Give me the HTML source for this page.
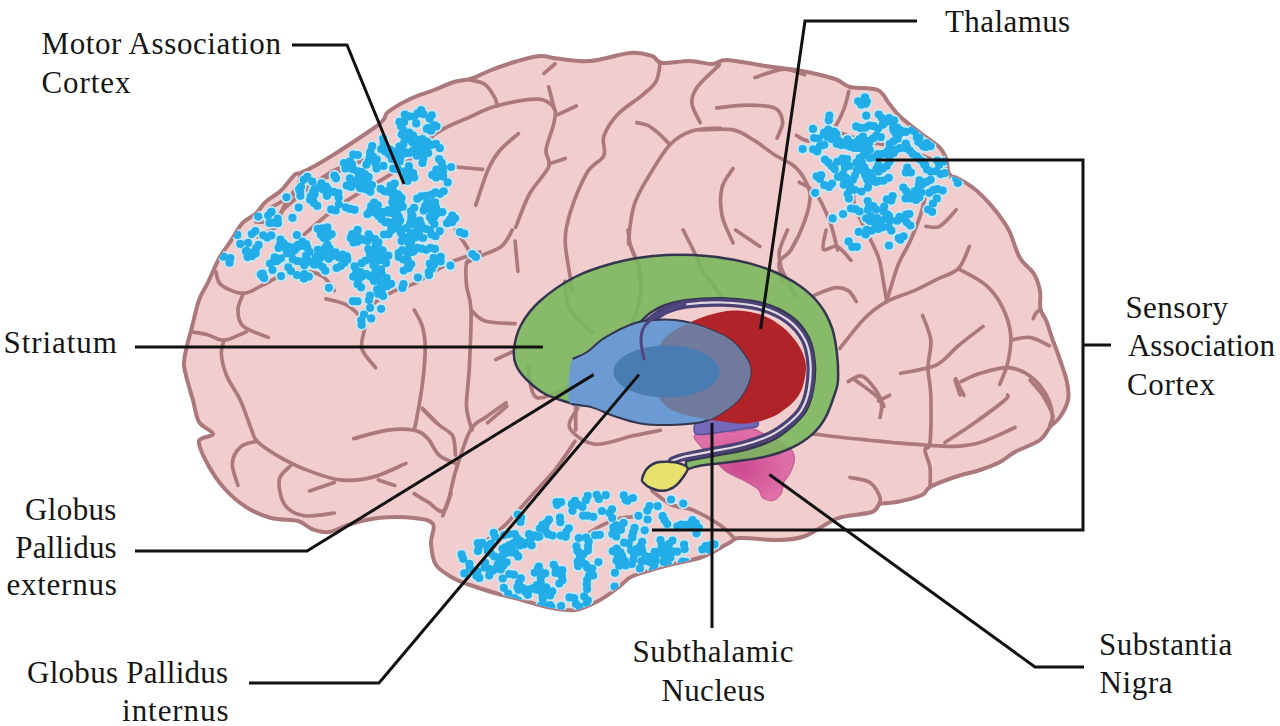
<!DOCTYPE html>
<html><head><meta charset="utf-8"><style>
html,body{margin:0;padding:0;background:#fff;}
svg{display:block;}
text{font-family:"Liberation Serif",serif;font-size:31px;fill:#161616;}
</style></head><body>
<svg width="1280" height="726" viewBox="0 0 1280 726">
<rect width="1280" height="726" fill="#fff"/>
<path d="M187.0,346.0 C188.3,339.7 190.0,334.7 192.0,327.0 C194.0,319.3 196.4,307.3 199.0,300.0 C201.6,292.7 204.3,290.0 207.7,283.0 C211.1,276.0 215.4,265.1 219.3,258.0 C223.2,250.9 227.2,246.4 231.0,240.6 C234.8,234.8 238.2,227.7 242.4,223.2 C246.6,218.7 252.1,217.1 255.9,213.6 C259.8,210.1 261.3,205.8 265.5,202.0 C269.7,198.2 276.2,195.0 281.0,190.5 C285.8,186.0 291.2,177.9 294.4,175.0 C297.6,172.1 296.7,174.7 300.2,173.1 C303.7,171.5 309.8,168.6 315.6,165.4 C321.4,162.2 325.2,160.1 334.9,153.9 C344.6,147.7 365.8,133.8 374.0,128.0 C382.2,122.2 381.7,121.7 384.0,119.0 C386.3,116.3 383.7,115.3 388.0,112.0 C392.3,108.7 402.3,102.7 410.0,99.0 C417.7,95.3 426.7,92.8 434.0,90.0 C441.3,87.2 447.7,83.9 454.0,82.0 C460.3,80.1 466.0,80.4 472.0,78.5 C478.0,76.6 482.7,73.3 490.0,70.5 C497.3,67.7 507.7,63.9 516.0,61.5 C524.3,59.1 533.2,56.5 540.0,56.0 C546.8,55.5 548.7,57.7 557.0,58.5 C565.3,59.3 577.8,61.9 590.0,61.0 C602.2,60.1 619.7,53.8 630.0,53.0 C640.3,52.2 646.7,54.3 652.0,56.0 C657.3,57.7 655.7,62.2 662.0,63.0 C668.3,63.8 681.7,60.8 690.0,61.0 C698.3,61.2 705.8,64.2 712.0,64.0 C718.2,63.8 718.2,59.7 727.0,60.0 C735.8,60.3 752.5,64.2 765.0,66.0 C777.5,67.8 790.3,68.8 802.0,71.0 C813.7,73.2 827.0,76.3 835.0,79.0 C843.0,81.7 842.9,85.2 850.0,87.0 C857.1,88.8 871.1,87.3 877.6,90.0 C884.1,92.7 885.0,98.6 888.7,103.0 C892.4,107.4 894.2,111.1 899.7,116.3 C905.2,121.5 915.1,128.9 921.7,134.0 C928.3,139.1 935.2,143.1 939.3,147.1 C943.3,151.1 944.5,154.0 946.0,158.2 C947.5,162.3 947.5,168.9 948.2,172.0 C948.9,175.1 948.5,175.5 950.0,176.5 C951.5,177.5 952.9,175.9 957.0,178.0 C961.1,180.1 968.7,184.2 974.6,189.0 C980.5,193.8 987.1,200.7 992.2,206.6 C997.4,212.5 1002.4,219.6 1005.5,224.3 C1008.6,229.0 1008.6,229.4 1011.0,235.0 C1013.4,240.6 1016.2,251.5 1020.0,258.0 C1023.8,264.5 1030.7,268.5 1034.0,274.0 C1037.3,279.5 1038.9,285.2 1040.0,291.0 C1041.1,296.8 1039.3,304.0 1040.4,309.0 C1041.5,314.0 1044.5,316.2 1046.4,321.0 C1048.3,325.8 1049.9,332.0 1052.0,338.0 C1054.1,344.0 1056.5,349.7 1059.0,357.0 C1061.5,364.3 1065.5,374.8 1067.0,382.0 C1068.5,389.2 1069.2,394.2 1068.0,400.0 C1066.8,405.8 1063.0,412.5 1060.0,417.0 C1057.0,421.5 1053.3,423.2 1050.0,427.0 C1046.7,430.8 1045.8,435.8 1040.0,440.0 C1034.2,444.2 1021.7,448.3 1015.0,452.0 C1008.3,455.7 1005.8,459.0 1000.0,462.0 C994.2,465.0 987.5,467.5 980.0,470.0 C972.5,472.5 963.3,474.2 955.0,477.0 C946.7,479.8 935.5,484.0 930.0,487.0 C924.5,490.0 927.5,492.5 922.0,495.0 C916.5,497.5 904.0,500.5 897.0,502.0 C890.0,503.5 884.2,502.3 880.0,504.0 C875.8,505.7 878.3,509.8 872.0,512.0 C865.7,514.2 849.0,515.3 842.0,517.0 C835.0,518.7 836.2,518.8 830.0,522.0 C823.8,525.2 813.3,533.0 805.0,536.0 C796.7,539.0 790.8,539.7 780.0,540.0 C769.2,540.3 748.5,537.5 740.0,538.0 C731.5,538.5 735.3,539.8 729.0,543.0 C722.7,546.2 712.0,553.3 702.0,557.0 C692.0,560.7 680.5,561.8 669.0,565.0 C657.5,568.2 641.2,572.5 633.0,576.0 C624.8,579.5 625.5,582.0 620.0,586.0 C614.5,590.0 607.5,596.0 600.0,600.0 C592.5,604.0 583.8,608.8 575.0,610.0 C566.2,611.2 555.8,608.7 547.0,607.0 C538.2,605.3 530.7,602.3 522.0,600.0 C513.3,597.7 503.7,595.5 495.0,593.0 C486.3,590.5 476.7,587.3 470.0,585.0 C463.3,582.7 460.7,582.3 455.0,579.0 C449.3,575.7 440.0,571.0 436.0,565.0 C432.0,559.0 431.5,549.8 431.0,543.0 C430.5,536.2 435.8,528.2 433.0,524.0 C430.2,519.8 423.2,519.0 414.0,518.0 C404.8,517.0 388.5,517.0 378.0,518.0 C367.5,519.0 359.2,521.7 351.0,524.0 C342.8,526.3 335.5,531.2 329.0,532.0 C322.5,532.8 317.2,530.8 312.0,529.0 C306.8,527.2 304.8,522.8 298.0,521.0 C291.2,519.2 279.7,520.3 271.0,518.0 C262.3,515.7 253.8,512.0 246.0,507.0 C238.2,502.0 230.5,495.3 224.0,488.0 C217.5,480.7 211.2,470.8 207.0,463.0 C202.8,455.2 198.0,445.8 199.0,441.0 C200.0,436.2 213.0,437.2 213.0,434.0 C213.0,430.8 202.3,427.7 199.0,422.0 C195.7,416.3 194.5,405.3 193.0,400.0 C191.5,394.7 191.5,395.8 190.0,390.0 C188.5,384.2 184.5,372.3 184.0,365.0 C183.5,357.7 185.7,352.3 187.0,346.0Z" fill="#f2cdcd" stroke="#ab797c" stroke-width="4" stroke-linejoin="round"/>
<g fill="none" stroke="#ab797c" stroke-width="3.7" stroke-linecap="round" stroke-linejoin="round"><path d="M469.4,79.7 C472.0,80.5 480.8,81.5 485.0,84.4 C489.2,87.3 492.3,93.3 494.4,96.9 C496.5,100.5 497.0,104.5 497.5,106.0"/><path d="M544.0,73.4 C545.8,71.8 553.2,65.6 555.0,64.0"/><path d="M300.0,238.0 C306.7,232.5 323.3,216.7 340.0,205.0 C356.7,193.3 384.0,179.9 400.0,168.0 C416.0,156.1 424.1,142.1 435.8,133.6 C447.5,125.1 459.9,121.6 470.0,117.0 C480.1,112.4 485.1,109.0 496.4,106.0 C507.7,103.0 528.1,98.9 537.7,99.2 C547.3,99.5 551.3,104.1 554.0,108.0 C556.7,111.9 555.3,115.6 554.0,122.6 C552.7,129.6 546.9,142.7 546.0,150.0 C545.1,157.3 551.5,159.4 548.7,166.7 C545.9,174.0 534.9,183.9 529.4,194.0 C523.9,204.1 518.0,221.8 515.7,227.3"/><path d="M548.7,86.8 C549.6,90.5 553.3,105.1 554.2,108.8"/><path d="M558.4,114.4 C561.4,113.0 573.3,107.4 576.3,106.0"/><path d="M518.4,133.6 C515.3,136.4 505.1,144.2 500.0,150.2 C494.9,156.2 492.2,160.2 488.1,169.4 C484.1,178.6 477.8,199.2 475.7,205.2"/><path d="M452.3,166.7 C457.4,167.1 477.6,168.9 482.6,169.4"/><path d="M660.3,62.0 C659.6,65.2 659.1,75.8 656.1,81.3 C653.1,86.8 648.8,89.6 642.4,95.1 C636.0,100.6 624.0,107.5 617.6,114.4 C611.2,121.3 606.1,129.5 603.8,136.4 C601.5,143.3 606.5,149.7 603.8,155.7 C601.0,161.7 592.8,163.0 587.3,172.2 C581.8,181.4 574.5,199.4 570.8,210.7 C567.1,222.0 565.3,229.0 565.2,240.0 C565.1,251.0 568.9,268.4 570.2,276.8 C571.5,285.2 572.5,288.3 573.0,290.6"/><path d="M548.7,164.0 C551.5,163.1 562.5,159.3 565.2,158.4"/><path d="M636.8,122.6 C638.6,123.1 644.2,123.6 647.9,125.4 C651.6,127.2 655.2,130.4 658.9,133.6 C662.6,136.8 668.1,142.8 669.9,144.7"/><path d="M720.0,128.1 C715.3,128.6 700.2,128.1 691.9,130.9 C683.5,133.7 677.2,136.9 669.9,144.7 C662.6,152.5 653.9,167.6 647.9,177.7 C641.9,187.8 637.3,194.8 634.1,205.2 C630.9,215.6 629.2,233.1 628.6,240.0 C628.0,246.9 629.1,242.2 630.8,246.5 C632.5,250.8 637.6,262.6 639.0,265.8"/><path d="M719.5,64.8 C715.8,68.5 702.0,80.4 697.4,86.8 C692.8,93.2 691.4,97.3 691.9,103.3 C692.4,109.3 698.8,119.4 700.2,122.6"/><path d="M270.0,208.0 C282.1,201.6 319.4,180.5 342.5,169.5 C365.6,158.5 392.4,149.4 408.6,142.0 C424.9,134.6 434.8,127.8 440.0,125.0"/><path d="M256.0,222.0 C258.8,221.8 268.2,223.3 273.0,221.0 C277.8,218.7 280.5,212.3 285.0,208.0 C289.5,203.7 295.0,199.2 300.0,195.0 C305.0,190.8 309.2,187.2 315.0,183.0 C320.8,178.8 327.5,173.7 335.0,170.0 C342.5,166.3 355.8,162.5 360.0,161.0"/><path d="M300.2,176.0 C299.8,177.5 300.9,179.7 298.0,185.0 C295.1,190.3 286.5,201.2 283.0,208.0 C279.5,214.8 281.2,221.2 277.0,226.0 C272.8,230.8 261.2,235.2 258.0,237.0"/><path d="M755.0,77.5 C759.6,76.1 774.3,69.8 782.6,69.3 C790.9,68.8 801.0,73.9 804.7,74.8"/><path d="M716.5,107.9 C721.5,107.4 737.1,105.1 746.8,105.1 C756.4,105.1 768.4,105.2 774.4,107.9 C780.4,110.7 782.1,116.5 782.6,121.6 C783.1,126.6 778.0,135.4 777.1,138.2"/><path d="M700.0,129.9 C705.5,129.9 723.8,128.1 733.0,129.9 C742.2,131.7 748.1,136.8 755.0,140.9 C761.9,145.0 767.9,150.6 774.4,154.7 C780.9,158.8 788.7,161.6 793.7,165.7 C798.8,169.8 802.0,174.4 804.7,179.5 C807.5,184.6 810.2,189.1 810.2,196.0 C810.2,202.9 807.9,211.8 804.7,220.8 C801.5,229.8 795.1,243.1 790.9,250.0 C786.7,256.9 780.8,257.0 779.3,262.0 C777.8,267.0 781.5,277.0 782.0,280.0"/><path d="M733.0,168.5 C731.2,171.7 723.8,179.9 722.0,187.7 C720.2,195.5 720.2,206.1 722.0,215.3 C723.8,224.5 731.2,238.2 733.0,242.8"/><path d="M848.8,91.3 C847.9,94.5 846.1,104.2 843.3,110.6 C840.5,117.0 837.7,124.9 832.2,129.9 C826.7,135.0 816.2,140.0 810.2,140.9 C804.2,141.8 798.7,136.3 796.4,135.4"/><path d="M832.2,129.9 C837.7,131.7 855.2,138.2 865.3,140.9 C875.4,143.7 883.6,144.1 892.8,146.4 C902.0,148.7 912.1,151.5 920.4,154.7 C928.7,157.9 936.9,161.6 942.4,165.7 C947.9,169.8 951.6,177.2 953.4,179.5"/><path d="M854.3,179.5 C854.3,183.6 852.5,196.0 854.3,204.3 C856.1,212.6 861.3,220.2 865.3,229.1 C869.3,238.0 875.4,248.2 878.5,257.5 C881.6,266.8 882.6,277.8 884.0,285.1 C885.4,292.5 886.2,298.9 886.7,301.6"/><path d="M925.9,193.3 C925.0,197.0 923.1,207.1 920.4,215.3 C917.6,223.6 913.2,234.4 909.4,242.8 C905.6,251.2 901.5,256.0 897.7,265.8 C893.9,275.6 888.5,295.6 886.7,301.6"/><path d="M799.2,182.2 C802.0,184.0 810.7,186.9 815.7,193.3 C820.8,199.7 825.8,211.4 829.5,220.8 C833.2,230.2 836.3,245.1 837.7,250.0"/><path d="M956.2,209.8 C953.5,212.6 944.8,223.6 939.7,226.3 C934.7,229.1 928.2,226.3 925.9,226.3"/><path d="M826.1,230.0 C825.6,233.2 821.6,246.6 823.4,249.3 C825.2,252.1 832.5,244.7 837.1,246.5 C841.7,248.3 848.6,258.0 850.9,260.3"/><path d="M812.3,296.1 C816.0,294.7 828.4,288.8 834.4,287.9 C840.4,287.0 844.5,288.3 848.2,290.6 C851.9,292.9 855.0,299.8 856.4,301.6"/><path d="M839.9,348.5 C844.0,343.4 856.9,326.0 864.7,318.2 C872.5,310.4 878.4,306.2 886.7,301.6 C895.0,297.0 906.0,294.3 914.3,290.6 C922.6,286.9 929.0,283.3 936.3,279.6 C943.6,275.9 952.8,274.1 958.3,268.6 C963.8,263.1 967.5,250.2 969.4,246.5"/><path d="M958.3,268.6 C962.9,271.4 978.5,278.7 985.9,285.1 C993.2,291.5 998.3,298.8 1002.4,307.1 C1006.5,315.4 1009.8,325.5 1010.7,334.7 C1011.6,343.9 1009.7,353.9 1007.9,362.2 C1006.1,370.5 1001.1,380.6 999.7,384.3"/><path d="M1010.7,340.2 C1013.9,339.7 1023.6,336.5 1030.0,337.4 C1036.4,338.3 1046.1,344.3 1049.3,345.7"/><path d="M922.5,315.4 C923.9,319.5 929.9,331.5 930.8,340.2 C931.7,348.9 928.0,358.5 928.0,367.7 C928.0,376.9 930.5,382.8 930.8,395.3 C931.1,407.8 931.0,433.4 930.0,442.5 C929.0,451.6 925.0,445.8 925.0,450.0 C925.0,454.2 929.2,461.2 930.0,467.5 C930.8,473.8 930.0,484.2 930.0,487.5"/><path d="M900.5,373.3 C906.5,371.9 926.7,369.6 936.3,365.0 C945.9,360.4 950.5,352.1 958.3,345.7 C966.1,339.3 979.0,329.6 983.1,326.4"/><path d="M955.6,378.8 C957.0,381.6 962.5,392.6 963.9,395.3"/><path d="M961.1,381.5 C964.3,380.1 972.6,375.6 980.4,373.3 C988.2,371.0 999.6,367.2 1007.9,367.7 C1016.2,368.1 1023.6,371.4 1030.0,376.0 C1036.4,380.6 1042.8,388.8 1046.5,395.3 C1050.2,401.8 1051.9,410.1 1052.5,415.0 C1053.1,419.9 1050.4,423.3 1050.0,425.0"/><path d="M848.2,381.5 C850.5,380.6 857.3,374.6 861.9,376.0 C866.5,377.4 872.0,384.8 875.7,389.8 C879.4,394.9 882.6,403.6 884.0,406.3"/><path d="M878.5,400.8 C880.3,399.9 887.7,396.2 889.5,395.3"/><path d="M787.5,230.0 C786.1,233.7 780.2,245.1 779.3,252.0 C778.4,258.9 781.5,268.1 782.0,271.3"/><path d="M1040.4,309.4 C1039.7,310.0 1037.2,311.4 1036.0,313.0 C1034.8,314.6 1033.7,317.8 1033.2,318.7"/><path d="M215.8,271.3 C216.7,273.6 216.7,281.4 221.3,285.1 C225.9,288.8 236.5,293.4 243.4,293.4 C250.3,293.4 255.7,288.3 262.6,285.1 C269.5,281.9 277.4,276.4 284.7,274.1 C292.0,271.8 300.3,270.9 306.7,271.3 C313.1,271.8 318.7,273.6 323.3,276.8 C327.9,280.0 332.5,288.3 334.3,290.6"/><path d="M243.4,293.4 C242.5,296.1 237.9,304.4 237.9,309.9 C237.9,315.4 238.4,321.8 243.4,326.4 C248.4,331.0 264.1,335.6 268.2,337.4"/><path d="M191.0,331.9 C193.8,332.4 202.0,333.3 207.5,334.7 C213.0,336.1 217.7,340.7 224.1,340.2 C230.5,339.7 242.4,333.3 246.1,331.9"/><path d="M224.1,340.2 C223.6,342.5 220.9,348.0 221.3,354.0 C221.8,360.0 223.6,368.2 226.8,376.0 C230.0,383.8 236.5,391.8 240.6,400.8 C244.7,409.8 248.8,423.2 251.6,430.0 C254.3,436.8 253.0,437.1 257.1,441.3 C261.2,445.5 268.6,450.5 276.4,455.1 C284.2,459.7 293.4,464.8 304.0,468.9 C314.6,473.0 328.3,478.5 339.8,479.9 C351.3,481.3 361.8,479.9 372.8,477.1 C383.8,474.4 400.4,465.7 405.9,463.4"/><path d="M326.0,298.9 C329.2,299.8 339.8,301.6 345.3,304.4 C350.8,307.1 355.9,311.7 359.1,315.4 C362.3,319.1 364.2,320.9 364.6,326.4 C365.1,331.9 360.0,341.6 361.8,348.5 C363.6,355.4 373.3,364.5 375.6,367.7"/><path d="M361.8,323.7 C363.6,320.5 367.3,309.9 372.8,304.4 C378.3,298.9 387.5,294.3 394.9,290.6 C402.2,286.9 409.5,286.0 416.9,282.3 C424.2,278.6 432.6,272.3 439.0,268.6 C445.4,264.9 448.7,263.1 455.5,260.3 C462.3,257.5 475.9,253.4 480.0,252.0"/><path d="M414.2,309.9 C415.6,312.6 420.6,320.0 422.4,326.4 C424.2,332.8 425.2,338.9 425.2,348.5 C425.2,358.1 423.8,372.8 422.4,384.3 C421.0,395.8 418.3,409.7 416.9,417.3 C415.5,424.9 414.6,427.9 414.2,430.0"/><path d="M455.5,230.0 C457.3,232.8 463.8,241.9 466.5,246.5 C469.2,251.1 472.0,254.8 472.0,257.5 C472.0,260.2 467.4,258.4 466.5,263.0 C465.6,267.6 465.8,277.3 466.5,285.1 C467.2,292.9 470.5,296.1 471.0,309.9 C471.5,323.7 470.1,351.6 469.3,367.7 C468.6,383.8 466.1,395.9 466.5,406.3 C466.9,416.7 471.1,426.1 472.0,430.0"/><path d="M422.4,409.0 C424.7,411.3 433.9,420.5 436.2,422.8"/><path d="M512.3,230.0 C510.5,232.8 507.3,241.9 501.3,246.5 C495.3,251.1 482.3,254.8 476.5,257.5 C470.7,260.2 468.2,262.1 466.5,263.0"/><path d="M515.1,241.0 C515.6,246.1 517.4,266.2 517.9,271.3"/><path d="M471.0,309.9 C473.3,311.7 477.4,318.6 484.8,320.9 C492.2,323.2 510.1,323.2 515.1,323.7"/><path d="M495.8,359.5 C498.8,358.1 510.7,352.6 513.7,351.2"/><path d="M506.8,406.3 C503.6,409.1 490.7,420.1 487.5,422.8"/><path d="M575.7,400.8 C575.7,405.7 575.7,425.1 575.7,430.0"/><path d="M683.1,230.0 C685.0,233.7 691.0,245.1 694.2,252.0 C697.4,258.9 701.0,268.1 702.4,271.3"/><path d="M735.5,230.0 C739.6,232.8 755.9,243.8 760.0,246.5"/><path d="M628.0,230.0 C628.5,232.8 629.0,240.5 630.8,246.5 C632.6,252.5 637.6,262.6 639.0,265.8"/><path d="M257.1,441.3 C254.4,442.2 244.7,443.1 240.6,446.8 C236.5,450.5 232.8,457.0 232.3,463.4 C231.9,469.8 237.0,481.7 237.9,485.4"/><path d="M290.2,466.1 C288.4,468.4 280.1,473.5 279.2,479.9 C278.3,486.3 280.6,498.7 284.7,504.7 C288.8,510.7 295.7,514.3 304.0,515.7 C312.3,517.1 329.2,513.5 334.3,513.0"/><path d="M309.5,490.9 C313.6,489.5 330.2,484.0 334.3,482.6"/><path d="M378.3,479.9 C381.1,480.8 392.1,484.5 394.9,485.4"/><path d="M353.6,438.6 C359.1,437.2 376.5,431.7 386.6,430.3 C396.7,428.9 407.3,428.9 414.2,430.3 C421.1,431.7 423.8,434.5 427.9,438.6 C432.0,442.7 434.4,451.0 439.0,455.1 C443.6,459.2 452.8,462.0 455.5,463.4"/><path d="M422.4,408.3 C425.2,411.1 433.9,420.2 439.0,424.8 C444.1,429.4 449.9,430.8 452.7,435.8 C455.4,440.9 455.0,451.9 455.5,455.1"/><path d="M414.2,493.7 C416.5,495.1 422.8,499.1 427.9,501.9 C432.9,504.6 439.9,515.2 444.5,510.2 C449.1,505.1 451.2,484.9 455.5,471.6 C459.8,458.3 465.1,439.5 470.3,430.3 C475.5,421.1 480.8,421.1 486.8,416.5 C492.8,411.9 502.9,405.1 506.1,402.8"/><path d="M444.5,510.2 C445.6,507.4 451.3,492.8 451.0,493.7 C450.7,494.6 444.2,512.0 442.8,515.7"/><path d="M577.7,408.3 C576.3,411.5 566.7,421.5 569.5,427.5 C572.3,433.5 583.8,442.7 594.3,444.1 C604.8,445.5 621.8,438.1 632.8,435.8 C643.8,433.5 655.8,431.2 660.4,430.3"/><path d="M575.0,441.3 C571.8,445.9 563.1,459.7 555.7,468.9 C548.4,478.1 539.6,486.8 530.9,496.4 C522.2,506.0 512.6,518.0 503.4,526.7 C494.2,535.4 480.4,545.1 475.8,548.8"/><path d="M652.1,490.9 C655.3,493.2 664.5,501.5 671.4,504.7 C678.3,507.9 685.3,506.8 693.4,510.2 C701.5,513.6 713.1,520.2 720.0,525.0 C726.9,529.8 732.5,536.5 735.0,538.8"/><path d="M577.7,543.3 C580.5,541.0 587.4,533.6 594.3,529.5 C601.2,525.4 609.9,520.8 619.1,518.5 C628.3,516.2 644.4,516.2 649.4,515.7"/><path d="M627.3,400.0 C627.8,402.8 629.6,413.8 630.1,416.5"/><path d="M573.0,290.6 C571.6,289.2 565.2,278.8 564.7,282.0 C564.2,285.2 565.6,301.5 570.3,310.0 C575.0,318.5 589.0,329.2 592.8,333.0"/><path d="M639.0,265.8 C639.3,270.8 641.8,286.3 640.6,296.0 C639.4,305.7 633.4,319.3 632.0,324.0"/><path d="M702.4,271.3 C703.8,273.1 707.2,276.9 711.0,282.0 C714.8,287.1 722.7,298.7 725.0,302.0"/><path d="M528.0,366.6 C529.4,371.8 529.6,394.3 536.6,397.5 C543.6,400.7 564.7,387.9 570.3,386.0"/><path d="M781.0,268.0 C783.3,272.7 792.7,291.3 795.0,296.0"/><path d="M812.5,433.8 C817.5,434.4 833.3,436.5 842.5,437.5 C851.7,438.5 859.2,439.2 867.5,440.0 C875.8,440.8 882.9,441.7 892.5,442.5 C902.1,443.3 914.6,444.4 925.0,445.0 C935.4,445.6 945.8,446.7 955.0,446.3 C964.2,445.9 970.0,445.6 980.0,442.5 C990.0,439.4 1009.2,430.0 1015.0,427.5"/><path d="M850.0,477.5 C853.3,478.3 865.0,479.2 870.0,482.5 C875.0,485.8 878.8,493.3 880.0,497.5 C881.2,501.7 877.9,505.8 877.5,507.5"/><path d="M945.0,442.5 C950.0,439.2 965.0,429.6 975.0,422.5 C985.0,415.4 999.6,404.6 1005.0,400.0 C1010.4,395.4 1007.1,395.8 1007.5,395.0"/><path d="M1030.0,380.0 C1032.1,382.5 1038.8,389.2 1042.5,395.0 C1046.2,400.8 1051.2,410.0 1052.5,415.0 C1053.8,420.0 1050.4,423.3 1050.0,425.0"/><path d="M855.0,380.0 C859.2,383.3 875.8,393.8 880.0,400.0 C884.2,406.2 880.0,414.6 880.0,417.5"/><path d="M955.0,380.0 C955.8,382.5 959.2,392.5 960.0,395.0"/></g>
<defs><clipPath id="cbrain"><path d="M187.0,346.0 C188.3,339.7 190.0,334.7 192.0,327.0 C194.0,319.3 196.4,307.3 199.0,300.0 C201.6,292.7 204.3,290.0 207.7,283.0 C211.1,276.0 215.4,265.1 219.3,258.0 C223.2,250.9 227.2,246.4 231.0,240.6 C234.8,234.8 238.2,227.7 242.4,223.2 C246.6,218.7 252.1,217.1 255.9,213.6 C259.8,210.1 261.3,205.8 265.5,202.0 C269.7,198.2 276.2,195.0 281.0,190.5 C285.8,186.0 291.2,177.9 294.4,175.0 C297.6,172.1 296.7,174.7 300.2,173.1 C303.7,171.5 309.8,168.6 315.6,165.4 C321.4,162.2 325.2,160.1 334.9,153.9 C344.6,147.7 365.8,133.8 374.0,128.0 C382.2,122.2 381.7,121.7 384.0,119.0 C386.3,116.3 383.7,115.3 388.0,112.0 C392.3,108.7 402.3,102.7 410.0,99.0 C417.7,95.3 426.7,92.8 434.0,90.0 C441.3,87.2 447.7,83.9 454.0,82.0 C460.3,80.1 466.0,80.4 472.0,78.5 C478.0,76.6 482.7,73.3 490.0,70.5 C497.3,67.7 507.7,63.9 516.0,61.5 C524.3,59.1 533.2,56.5 540.0,56.0 C546.8,55.5 548.7,57.7 557.0,58.5 C565.3,59.3 577.8,61.9 590.0,61.0 C602.2,60.1 619.7,53.8 630.0,53.0 C640.3,52.2 646.7,54.3 652.0,56.0 C657.3,57.7 655.7,62.2 662.0,63.0 C668.3,63.8 681.7,60.8 690.0,61.0 C698.3,61.2 705.8,64.2 712.0,64.0 C718.2,63.8 718.2,59.7 727.0,60.0 C735.8,60.3 752.5,64.2 765.0,66.0 C777.5,67.8 790.3,68.8 802.0,71.0 C813.7,73.2 827.0,76.3 835.0,79.0 C843.0,81.7 842.9,85.2 850.0,87.0 C857.1,88.8 871.1,87.3 877.6,90.0 C884.1,92.7 885.0,98.6 888.7,103.0 C892.4,107.4 894.2,111.1 899.7,116.3 C905.2,121.5 915.1,128.9 921.7,134.0 C928.3,139.1 935.2,143.1 939.3,147.1 C943.3,151.1 944.5,154.0 946.0,158.2 C947.5,162.3 947.5,168.9 948.2,172.0 C948.9,175.1 948.5,175.5 950.0,176.5 C951.5,177.5 952.9,175.9 957.0,178.0 C961.1,180.1 968.7,184.2 974.6,189.0 C980.5,193.8 987.1,200.7 992.2,206.6 C997.4,212.5 1002.4,219.6 1005.5,224.3 C1008.6,229.0 1008.6,229.4 1011.0,235.0 C1013.4,240.6 1016.2,251.5 1020.0,258.0 C1023.8,264.5 1030.7,268.5 1034.0,274.0 C1037.3,279.5 1038.9,285.2 1040.0,291.0 C1041.1,296.8 1039.3,304.0 1040.4,309.0 C1041.5,314.0 1044.5,316.2 1046.4,321.0 C1048.3,325.8 1049.9,332.0 1052.0,338.0 C1054.1,344.0 1056.5,349.7 1059.0,357.0 C1061.5,364.3 1065.5,374.8 1067.0,382.0 C1068.5,389.2 1069.2,394.2 1068.0,400.0 C1066.8,405.8 1063.0,412.5 1060.0,417.0 C1057.0,421.5 1053.3,423.2 1050.0,427.0 C1046.7,430.8 1045.8,435.8 1040.0,440.0 C1034.2,444.2 1021.7,448.3 1015.0,452.0 C1008.3,455.7 1005.8,459.0 1000.0,462.0 C994.2,465.0 987.5,467.5 980.0,470.0 C972.5,472.5 963.3,474.2 955.0,477.0 C946.7,479.8 935.5,484.0 930.0,487.0 C924.5,490.0 927.5,492.5 922.0,495.0 C916.5,497.5 904.0,500.5 897.0,502.0 C890.0,503.5 884.2,502.3 880.0,504.0 C875.8,505.7 878.3,509.8 872.0,512.0 C865.7,514.2 849.0,515.3 842.0,517.0 C835.0,518.7 836.2,518.8 830.0,522.0 C823.8,525.2 813.3,533.0 805.0,536.0 C796.7,539.0 790.8,539.7 780.0,540.0 C769.2,540.3 748.5,537.5 740.0,538.0 C731.5,538.5 735.3,539.8 729.0,543.0 C722.7,546.2 712.0,553.3 702.0,557.0 C692.0,560.7 680.5,561.8 669.0,565.0 C657.5,568.2 641.2,572.5 633.0,576.0 C624.8,579.5 625.5,582.0 620.0,586.0 C614.5,590.0 607.5,596.0 600.0,600.0 C592.5,604.0 583.8,608.8 575.0,610.0 C566.2,611.2 555.8,608.7 547.0,607.0 C538.2,605.3 530.7,602.3 522.0,600.0 C513.3,597.7 503.7,595.5 495.0,593.0 C486.3,590.5 476.7,587.3 470.0,585.0 C463.3,582.7 460.7,582.3 455.0,579.0 C449.3,575.7 440.0,571.0 436.0,565.0 C432.0,559.0 431.5,549.8 431.0,543.0 C430.5,536.2 435.8,528.2 433.0,524.0 C430.2,519.8 423.2,519.0 414.0,518.0 C404.8,517.0 388.5,517.0 378.0,518.0 C367.5,519.0 359.2,521.7 351.0,524.0 C342.8,526.3 335.5,531.2 329.0,532.0 C322.5,532.8 317.2,530.8 312.0,529.0 C306.8,527.2 304.8,522.8 298.0,521.0 C291.2,519.2 279.7,520.3 271.0,518.0 C262.3,515.7 253.8,512.0 246.0,507.0 C238.2,502.0 230.5,495.3 224.0,488.0 C217.5,480.7 211.2,470.8 207.0,463.0 C202.8,455.2 198.0,445.8 199.0,441.0 C200.0,436.2 213.0,437.2 213.0,434.0 C213.0,430.8 202.3,427.7 199.0,422.0 C195.7,416.3 194.5,405.3 193.0,400.0 C191.5,394.7 191.5,395.8 190.0,390.0 C188.5,384.2 184.5,372.3 184.0,365.0 C183.5,357.7 185.7,352.3 187.0,346.0Z"/></clipPath></defs><g clip-path="url(#cbrain)"><g fill="#c4eaf8"><circle cx="354.4" cy="183.1" r="5.8"/><circle cx="358.6" cy="185.1" r="5.8"/><circle cx="361.9" cy="188.3" r="5.8"/><circle cx="366.4" cy="189.4" r="5.8"/><circle cx="370.3" cy="191.8" r="5.8"/><circle cx="361.1" cy="287.3" r="5.8"/><circle cx="357.6" cy="284.2" r="5.8"/><circle cx="358.4" cy="279.7" r="5.8"/><circle cx="357.5" cy="275.1" r="5.8"/><circle cx="353.2" cy="276.7" r="5.8"/><circle cx="417.2" cy="150.0" r="5.8"/><circle cx="412.7" cy="150.8" r="5.8"/><circle cx="280.5" cy="239.5" r="5.8"/><circle cx="283.3" cy="243.1" r="5.8"/><circle cx="284.6" cy="247.5" r="5.8"/><circle cx="274.7" cy="257.3" r="5.8"/><circle cx="277.2" cy="261.1" r="5.8"/><circle cx="280.9" cy="258.3" r="5.8"/><circle cx="397.8" cy="169.2" r="5.8"/><circle cx="411.2" cy="264.2" r="5.8"/><circle cx="408.8" cy="268.1" r="5.8"/><circle cx="336.6" cy="268.0" r="5.8"/><circle cx="340.7" cy="266.1" r="5.8"/><circle cx="344.2" cy="263.0" r="5.8"/><circle cx="347.4" cy="259.7" r="5.8"/><circle cx="363.9" cy="239.6" r="5.8"/><circle cx="359.4" cy="238.6" r="5.8"/><circle cx="354.9" cy="239.8" r="5.8"/><circle cx="350.8" cy="237.9" r="5.8"/><circle cx="371.2" cy="206.0" r="5.8"/><circle cx="370.3" cy="210.5" r="5.8"/><circle cx="367.5" cy="214.2" r="5.8"/><circle cx="357.5" cy="275.8" r="5.8"/><circle cx="362.0" cy="275.3" r="5.8"/><circle cx="366.5" cy="274.1" r="5.8"/><circle cx="370.4" cy="276.6" r="5.8"/><circle cx="374.5" cy="274.4" r="5.8"/><circle cx="366.4" cy="164.7" r="5.8"/><circle cx="368.7" cy="160.7" r="5.8"/><circle cx="370.0" cy="156.3" r="5.8"/><circle cx="370.5" cy="151.7" r="5.8"/><circle cx="381.1" cy="250.1" r="5.8"/><circle cx="378.3" cy="253.7" r="5.8"/><circle cx="374.0" cy="255.5" r="5.8"/><circle cx="370.0" cy="253.3" r="5.8"/><circle cx="368.3" cy="249.0" r="5.8"/><circle cx="338.8" cy="204.3" r="5.8"/><circle cx="402.3" cy="250.2" r="5.8"/><circle cx="398.7" cy="253.1" r="5.8"/><circle cx="447.7" cy="182.4" r="5.8"/><circle cx="423.8" cy="210.4" r="5.8"/><circle cx="425.2" cy="206.1" r="5.8"/><circle cx="427.3" cy="202.0" r="5.8"/><circle cx="408.9" cy="176.6" r="5.8"/><circle cx="407.4" cy="181.0" r="5.8"/><circle cx="400.1" cy="158.2" r="5.8"/><circle cx="395.6" cy="159.0" r="5.8"/><circle cx="399.5" cy="161.5" r="5.8"/><circle cx="311.5" cy="262.4" r="5.8"/><circle cx="307.5" cy="260.1" r="5.8"/><circle cx="306.1" cy="255.7" r="5.8"/><circle cx="374.2" cy="278.8" r="5.8"/><circle cx="378.5" cy="277.1" r="5.8"/><circle cx="381.7" cy="273.9" r="5.8"/><circle cx="381.0" cy="269.3" r="5.8"/><circle cx="393.8" cy="153.3" r="5.8"/><circle cx="397.8" cy="151.0" r="5.8"/><circle cx="399.3" cy="146.7" r="5.8"/><circle cx="403.3" cy="144.3" r="5.8"/><circle cx="323.1" cy="189.5" r="5.8"/><circle cx="327.6" cy="188.9" r="5.8"/><circle cx="415.1" cy="143.8" r="5.8"/><circle cx="415.4" cy="139.2" r="5.8"/><circle cx="413.0" cy="135.3" r="5.8"/><circle cx="409.2" cy="132.6" r="5.8"/><circle cx="379.9" cy="211.9" r="5.8"/><circle cx="384.5" cy="212.4" r="5.8"/><circle cx="389.1" cy="212.7" r="5.8"/><circle cx="393.6" cy="213.6" r="5.8"/><circle cx="405.5" cy="176.0" r="5.8"/><circle cx="405.1" cy="171.4" r="5.8"/><circle cx="435.5" cy="236.2" r="5.8"/><circle cx="431.3" cy="234.4" r="5.8"/><circle cx="429.9" cy="230.0" r="5.8"/><circle cx="425.5" cy="228.8" r="5.8"/><circle cx="421.0" cy="227.5" r="5.8"/><circle cx="396.8" cy="217.3" r="5.8"/><circle cx="394.8" cy="221.4" r="5.8"/><circle cx="396.8" cy="225.5" r="5.8"/><circle cx="399.5" cy="229.3" r="5.8"/><circle cx="401.1" cy="233.6" r="5.8"/><circle cx="370.2" cy="153.3" r="5.8"/><circle cx="373.2" cy="156.8" r="5.8"/><circle cx="376.8" cy="159.6" r="5.8"/><circle cx="375.7" cy="164.0" r="5.8"/><circle cx="376.6" cy="168.6" r="5.8"/><circle cx="292.5" cy="217.8" r="5.8"/><circle cx="384.4" cy="258.0" r="5.8"/><circle cx="388.3" cy="255.7" r="5.8"/><circle cx="401.7" cy="134.5" r="5.8"/><circle cx="403.5" cy="130.3" r="5.8"/><circle cx="349.9" cy="178.3" r="5.8"/><circle cx="351.8" cy="182.5" r="5.8"/><circle cx="350.9" cy="187.0" r="5.8"/><circle cx="310.1" cy="199.7" r="5.8"/><circle cx="408.9" cy="166.0" r="5.8"/><circle cx="409.1" cy="170.6" r="5.8"/><circle cx="413.1" cy="173.0" r="5.8"/><circle cx="414.2" cy="177.5" r="5.8"/><circle cx="354.6" cy="209.8" r="5.8"/><circle cx="350.1" cy="208.9" r="5.8"/><circle cx="345.8" cy="207.3" r="5.8"/><circle cx="376.5" cy="261.2" r="5.8"/><circle cx="381.0" cy="260.0" r="5.8"/><circle cx="336.0" cy="178.3" r="5.8"/><circle cx="375.2" cy="212.7" r="5.8"/><circle cx="378.5" cy="216.0" r="5.8"/><circle cx="381.7" cy="219.3" r="5.8"/><circle cx="385.2" cy="222.3" r="5.8"/><circle cx="398.6" cy="216.3" r="5.8"/><circle cx="400.2" cy="220.6" r="5.8"/><circle cx="398.0" cy="224.6" r="5.8"/><circle cx="398.5" cy="229.2" r="5.8"/><circle cx="381.5" cy="215.4" r="5.8"/><circle cx="384.3" cy="211.8" r="5.8"/><circle cx="388.6" cy="210.1" r="5.8"/><circle cx="393.0" cy="208.7" r="5.8"/><circle cx="397.5" cy="209.7" r="5.8"/><circle cx="431.5" cy="194.7" r="5.8"/><circle cx="435.5" cy="192.4" r="5.8"/><circle cx="439.9" cy="193.8" r="5.8"/><circle cx="443.7" cy="191.3" r="5.8"/><circle cx="452.3" cy="215.6" r="5.8"/><circle cx="449.9" cy="219.5" r="5.8"/><circle cx="447.1" cy="223.2" r="5.8"/><circle cx="296.9" cy="235.1" r="5.8"/><circle cx="410.0" cy="224.4" r="5.8"/><circle cx="413.6" cy="221.5" r="5.8"/><circle cx="418.2" cy="221.9" r="5.8"/><circle cx="420.2" cy="226.0" r="5.8"/><circle cx="374.9" cy="249.0" r="5.8"/><circle cx="375.9" cy="244.5" r="5.8"/><circle cx="361.7" cy="263.2" r="5.8"/><circle cx="365.5" cy="260.5" r="5.8"/><circle cx="370.0" cy="259.4" r="5.8"/><circle cx="370.5" cy="254.9" r="5.8"/><circle cx="374.9" cy="253.3" r="5.8"/><circle cx="377.1" cy="289.4" r="5.8"/><circle cx="378.3" cy="293.9" r="5.8"/><circle cx="413.1" cy="251.6" r="5.8"/><circle cx="410.0" cy="248.2" r="5.8"/><circle cx="409.1" cy="243.7" r="5.8"/><circle cx="408.1" cy="239.2" r="5.8"/><circle cx="403.9" cy="237.2" r="5.8"/><circle cx="287.0" cy="253.1" r="5.8"/><circle cx="291.6" cy="253.1" r="5.8"/><circle cx="294.9" cy="249.9" r="5.8"/><circle cx="298.2" cy="246.8" r="5.8"/><circle cx="406.2" cy="228.1" r="5.8"/><circle cx="368.7" cy="177.0" r="5.8"/><circle cx="365.1" cy="174.3" r="5.8"/><circle cx="360.7" cy="172.7" r="5.8"/><circle cx="393.2" cy="168.7" r="5.8"/><circle cx="254.6" cy="251.5" r="5.8"/><circle cx="250.6" cy="253.7" r="5.8"/><circle cx="246.8" cy="251.1" r="5.8"/><circle cx="391.9" cy="159.0" r="5.8"/><circle cx="395.4" cy="156.0" r="5.8"/><circle cx="397.4" cy="151.8" r="5.8"/><circle cx="400.6" cy="148.5" r="5.8"/><circle cx="325.2" cy="247.8" r="5.8"/><circle cx="322.4" cy="251.4" r="5.8"/><circle cx="322.1" cy="256.0" r="5.8"/><circle cx="317.6" cy="256.6" r="5.8"/><circle cx="422.4" cy="139.1" r="5.8"/><circle cx="436.4" cy="169.5" r="5.8"/><circle cx="438.5" cy="173.6" r="5.8"/><circle cx="436.1" cy="177.5" r="5.8"/><circle cx="432.3" cy="174.9" r="5.8"/><circle cx="403.7" cy="270.6" r="5.8"/><circle cx="416.3" cy="230.6" r="5.8"/><circle cx="418.3" cy="226.5" r="5.8"/><circle cx="415.2" cy="223.1" r="5.8"/><circle cx="411.0" cy="221.2" r="5.8"/><circle cx="411.4" cy="216.6" r="5.8"/><circle cx="335.4" cy="252.4" r="5.8"/><circle cx="332.4" cy="255.9" r="5.8"/><circle cx="328.8" cy="258.8" r="5.8"/><circle cx="291.7" cy="249.9" r="5.8"/><circle cx="288.5" cy="246.6" r="5.8"/><circle cx="284.3" cy="244.7" r="5.8"/><circle cx="279.8" cy="245.3" r="5.8"/><circle cx="362.0" cy="276.5" r="5.8"/><circle cx="360.7" cy="272.1" r="5.8"/><circle cx="356.3" cy="270.7" r="5.8"/><circle cx="354.6" cy="266.4" r="5.8"/><circle cx="402.9" cy="206.8" r="5.8"/><circle cx="400.7" cy="202.8" r="5.8"/><circle cx="401.5" cy="198.2" r="5.8"/><circle cx="375.4" cy="272.1" r="5.8"/><circle cx="373.6" cy="276.3" r="5.8"/><circle cx="373.9" cy="280.9" r="5.8"/><circle cx="304.3" cy="263.4" r="5.8"/><circle cx="307.2" cy="259.9" r="5.8"/><circle cx="435.0" cy="202.4" r="5.8"/><circle cx="442.3" cy="212.1" r="5.8"/><circle cx="437.8" cy="213.0" r="5.8"/><circle cx="433.3" cy="212.2" r="5.8"/><circle cx="429.9" cy="209.1" r="5.8"/><circle cx="387.2" cy="286.2" r="5.8"/><circle cx="391.1" cy="283.8" r="5.8"/><circle cx="374.7" cy="212.2" r="5.8"/><circle cx="292.8" cy="259.2" r="5.8"/><circle cx="297.1" cy="261.0" r="5.8"/><circle cx="301.6" cy="261.5" r="5.8"/><circle cx="304.3" cy="265.3" r="5.8"/><circle cx="432.4" cy="202.7" r="5.8"/><circle cx="429.4" cy="206.2" r="5.8"/><circle cx="317.3" cy="205.9" r="5.8"/><circle cx="313.8" cy="202.9" r="5.8"/><circle cx="312.7" cy="198.4" r="5.8"/><circle cx="314.6" cy="194.2" r="5.8"/><circle cx="406.0" cy="152.3" r="5.8"/><circle cx="401.4" cy="153.1" r="5.8"/><circle cx="398.4" cy="156.6" r="5.8"/><circle cx="327.8" cy="236.8" r="5.8"/><circle cx="331.6" cy="234.2" r="5.8"/><circle cx="327.4" cy="244.7" r="5.8"/><circle cx="329.8" cy="248.7" r="5.8"/><circle cx="326.5" cy="251.9" r="5.8"/><circle cx="327.5" cy="256.4" r="5.8"/><circle cx="443.1" cy="176.6" r="5.8"/><circle cx="443.0" cy="172.0" r="5.8"/><circle cx="442.9" cy="167.4" r="5.8"/><circle cx="441.8" cy="162.9" r="5.8"/><circle cx="439.1" cy="159.2" r="5.8"/><circle cx="314.3" cy="264.7" r="5.8"/><circle cx="318.9" cy="264.5" r="5.8"/><circle cx="322.7" cy="267.1" r="5.8"/><circle cx="325.4" cy="270.8" r="5.8"/><circle cx="334.4" cy="175.5" r="5.8"/><circle cx="345.5" cy="168.4" r="5.8"/><circle cx="292.0" cy="251.4" r="5.8"/><circle cx="294.0" cy="247.3" r="5.8"/><circle cx="297.9" cy="244.9" r="5.8"/><circle cx="401.6" cy="241.1" r="5.8"/><circle cx="405.5" cy="238.7" r="5.8"/><circle cx="408.7" cy="242.0" r="5.8"/><circle cx="439.7" cy="231.1" r="5.8"/><circle cx="394.7" cy="201.0" r="5.8"/><circle cx="393.9" cy="196.5" r="5.8"/><circle cx="398.0" cy="194.3" r="5.8"/><circle cx="302.3" cy="241.6" r="5.8"/><circle cx="306.1" cy="244.2" r="5.8"/><circle cx="315.5" cy="257.7" r="5.8"/><circle cx="320.0" cy="258.3" r="5.8"/><circle cx="325.7" cy="233.9" r="5.8"/><circle cx="323.8" cy="238.1" r="5.8"/><circle cx="320.8" cy="234.7" r="5.8"/><circle cx="324.8" cy="232.4" r="5.8"/><circle cx="322.4" cy="228.4" r="5.8"/><circle cx="393.4" cy="197.7" r="5.8"/><circle cx="392.3" cy="202.1" r="5.8"/><circle cx="396.9" cy="202.9" r="5.8"/><circle cx="400.7" cy="205.4" r="5.8"/><circle cx="407.7" cy="253.6" r="5.8"/><circle cx="412.0" cy="251.9" r="5.8"/><circle cx="415.6" cy="249.0" r="5.8"/><circle cx="317.9" cy="249.8" r="5.8"/><circle cx="318.4" cy="254.4" r="5.8"/><circle cx="352.3" cy="234.0" r="5.8"/><circle cx="354.8" cy="237.8" r="5.8"/><circle cx="357.3" cy="241.7" r="5.8"/><circle cx="361.4" cy="239.5" r="5.8"/><circle cx="452.3" cy="222.1" r="5.8"/><circle cx="455.1" cy="218.3" r="5.8"/><circle cx="377.2" cy="244.7" r="5.8"/><circle cx="368.7" cy="234.3" r="5.8"/><circle cx="317.7" cy="228.8" r="5.8"/><circle cx="412.5" cy="215.8" r="5.8"/><circle cx="380.7" cy="188.8" r="5.8"/><circle cx="384.6" cy="191.3" r="5.8"/><circle cx="389.1" cy="192.1" r="5.8"/><circle cx="245.9" cy="251.1" r="5.8"/><circle cx="278.6" cy="248.0" r="5.8"/><circle cx="363.8" cy="182.9" r="5.8"/><circle cx="365.3" cy="178.6" r="5.8"/><circle cx="377.9" cy="280.5" r="5.8"/><circle cx="381.6" cy="283.3" r="5.8"/><circle cx="380.4" cy="287.8" r="5.8"/><circle cx="381.8" cy="292.2" r="5.8"/><circle cx="403.2" cy="259.5" r="5.8"/><circle cx="407.8" cy="260.0" r="5.8"/><circle cx="408.2" cy="264.6" r="5.8"/><circle cx="373.4" cy="265.3" r="5.8"/><circle cx="376.3" cy="268.8" r="5.8"/><circle cx="423.1" cy="238.0" r="5.8"/><circle cx="418.7" cy="236.7" r="5.8"/><circle cx="416.6" cy="232.6" r="5.8"/><circle cx="357.6" cy="229.9" r="5.8"/><circle cx="357.0" cy="234.5" r="5.8"/><circle cx="354.0" cy="238.0" r="5.8"/><circle cx="353.5" cy="242.5" r="5.8"/><circle cx="338.6" cy="197.6" r="5.8"/><circle cx="338.3" cy="193.0" r="5.8"/><circle cx="333.8" cy="191.9" r="5.8"/><circle cx="329.2" cy="191.8" r="5.8"/><circle cx="414.1" cy="207.9" r="5.8"/><circle cx="398.7" cy="256.9" r="5.8"/><circle cx="380.6" cy="258.1" r="5.8"/><circle cx="417.0" cy="152.3" r="5.8"/><circle cx="421.5" cy="151.6" r="5.8"/><circle cx="425.6" cy="149.5" r="5.8"/><circle cx="428.3" cy="153.1" r="5.8"/><circle cx="395.9" cy="157.2" r="5.8"/><circle cx="393.1" cy="153.5" r="5.8"/><circle cx="390.4" cy="149.8" r="5.8"/><circle cx="386.3" cy="147.7" r="5.8"/><circle cx="383.8" cy="143.9" r="5.8"/><circle cx="417.1" cy="143.3" r="5.8"/><circle cx="412.6" cy="142.5" r="5.8"/><circle cx="409.3" cy="139.3" r="5.8"/><circle cx="404.7" cy="138.9" r="5.8"/><circle cx="386.6" cy="278.0" r="5.8"/><circle cx="385.6" cy="282.5" r="5.8"/><circle cx="382.1" cy="285.4" r="5.8"/><circle cx="429.9" cy="217.0" r="5.8"/><circle cx="426.3" cy="249.8" r="5.8"/><circle cx="421.8" cy="248.7" r="5.8"/><circle cx="417.3" cy="247.9" r="5.8"/><circle cx="413.7" cy="250.8" r="5.8"/><circle cx="401.0" cy="126.2" r="5.8"/><circle cx="399.5" cy="121.9" r="5.8"/><circle cx="404.1" cy="122.1" r="5.8"/><circle cx="435.0" cy="248.9" r="5.8"/><circle cx="430.5" cy="247.9" r="5.8"/><circle cx="331.2" cy="209.4" r="5.8"/><circle cx="335.7" cy="210.5" r="5.8"/><circle cx="361.4" cy="172.0" r="5.8"/><circle cx="357.0" cy="171.0" r="5.8"/><circle cx="352.7" cy="169.2" r="5.8"/><circle cx="352.1" cy="164.6" r="5.8"/><circle cx="374.2" cy="202.7" r="5.8"/><circle cx="377.9" cy="205.3" r="5.8"/><circle cx="383.5" cy="165.9" r="5.8"/><circle cx="434.4" cy="224.1" r="5.8"/><circle cx="431.9" cy="220.2" r="5.8"/><circle cx="434.6" cy="216.5" r="5.8"/><circle cx="435.2" cy="212.0" r="5.8"/><circle cx="435.9" cy="207.4" r="5.8"/><circle cx="247.5" cy="257.1" r="5.8"/><circle cx="252.0" cy="256.1" r="5.8"/><circle cx="255.6" cy="253.3" r="5.8"/><circle cx="256.0" cy="248.7" r="5.8"/><circle cx="258.6" cy="244.9" r="5.8"/><circle cx="327.4" cy="227.4" r="5.8"/><circle cx="433.6" cy="257.8" r="5.8"/><circle cx="381.2" cy="149.0" r="5.8"/><circle cx="385.1" cy="151.5" r="5.8"/><circle cx="388.8" cy="154.2" r="5.8"/><circle cx="309.6" cy="251.9" r="5.8"/><circle cx="307.4" cy="247.8" r="5.8"/><circle cx="303.3" cy="245.8" r="5.8"/><circle cx="411.0" cy="211.3" r="5.8"/><circle cx="411.9" cy="215.8" r="5.8"/><circle cx="422.9" cy="153.9" r="5.8"/><circle cx="423.3" cy="158.5" r="5.8"/><circle cx="422.4" cy="163.0" r="5.8"/><circle cx="369.1" cy="185.6" r="5.8"/><circle cx="365.6" cy="182.6" r="5.8"/><circle cx="363.1" cy="178.7" r="5.8"/><circle cx="359.0" cy="176.5" r="5.8"/><circle cx="356.6" cy="180.4" r="5.8"/><circle cx="362.2" cy="172.7" r="5.8"/><circle cx="361.0" cy="177.2" r="5.8"/><circle cx="363.7" cy="180.9" r="5.8"/><circle cx="367.9" cy="182.7" r="5.8"/><circle cx="372.0" cy="185.0" r="5.8"/><circle cx="405.0" cy="153.3" r="5.8"/><circle cx="409.6" cy="153.0" r="5.8"/><circle cx="414.1" cy="151.9" r="5.8"/><circle cx="416.8" cy="155.7" r="5.8"/><circle cx="421.1" cy="154.1" r="5.8"/><circle cx="416.3" cy="231.2" r="5.8"/><circle cx="417.8" cy="226.8" r="5.8"/><circle cx="417.5" cy="222.3" r="5.8"/><circle cx="411.8" cy="233.4" r="5.8"/><circle cx="411.2" cy="237.9" r="5.8"/><circle cx="410.2" cy="242.4" r="5.8"/><circle cx="394.7" cy="183.5" r="5.8"/><circle cx="390.6" cy="185.6" r="5.8"/><circle cx="392.7" cy="189.7" r="5.8"/><circle cx="394.9" cy="193.8" r="5.8"/><circle cx="397.7" cy="197.4" r="5.8"/><circle cx="326.9" cy="195.8" r="5.8"/><circle cx="326.4" cy="191.2" r="5.8"/><circle cx="326.2" cy="186.6" r="5.8"/><circle cx="419.8" cy="220.5" r="5.8"/><circle cx="421.1" cy="224.9" r="5.8"/><circle cx="419.9" cy="229.4" r="5.8"/><circle cx="418.7" cy="233.8" r="5.8"/><circle cx="344.5" cy="260.3" r="5.8"/><circle cx="346.8" cy="256.3" r="5.8"/><circle cx="342.6" cy="254.5" r="5.8"/><circle cx="339.0" cy="257.4" r="5.8"/><circle cx="270.0" cy="263.6" r="5.8"/><circle cx="274.1" cy="261.5" r="5.8"/><circle cx="410.9" cy="242.5" r="5.8"/><circle cx="412.0" cy="238.0" r="5.8"/><circle cx="410.8" cy="233.5" r="5.8"/><circle cx="346.7" cy="185.5" r="5.8"/><circle cx="351.0" cy="184.0" r="5.8"/><circle cx="367.5" cy="241.0" r="5.8"/><circle cx="382.7" cy="250.5" r="5.8"/><circle cx="382.4" cy="255.1" r="5.8"/><circle cx="383.1" cy="259.6" r="5.8"/><circle cx="386.1" cy="263.1" r="5.8"/><circle cx="378.4" cy="242.4" r="5.8"/><circle cx="375.0" cy="239.2" r="5.8"/><circle cx="370.8" cy="237.5" r="5.8"/><circle cx="423.4" cy="145.3" r="5.8"/><circle cx="426.6" cy="148.6" r="5.8"/><circle cx="271.3" cy="235.4" r="5.8"/><circle cx="267.2" cy="237.6" r="5.8"/><circle cx="398.7" cy="195.5" r="5.8"/><circle cx="425.8" cy="195.8" r="5.8"/><circle cx="421.2" cy="196.3" r="5.8"/><circle cx="417.3" cy="198.7" r="5.8"/><circle cx="369.6" cy="190.1" r="5.8"/><circle cx="367.9" cy="185.8" r="5.8"/><circle cx="363.4" cy="185.0" r="5.8"/><circle cx="360.0" cy="188.1" r="5.8"/><circle cx="384.0" cy="234.5" r="5.8"/><circle cx="388.6" cy="234.3" r="5.8"/><circle cx="391.1" cy="230.4" r="5.8"/><circle cx="391.1" cy="225.8" r="5.8"/><circle cx="388.2" cy="222.2" r="5.8"/><circle cx="409.7" cy="245.3" r="5.8"/><circle cx="410.9" cy="240.9" r="5.8"/><circle cx="414.3" cy="237.8" r="5.8"/><circle cx="268.2" cy="215.5" r="5.8"/><circle cx="271.3" cy="212.1" r="5.8"/><circle cx="299.1" cy="189.3" r="5.8"/><circle cx="426.9" cy="141.5" r="5.8"/><circle cx="431.1" cy="130.7" r="5.8"/><circle cx="426.9" cy="128.9" r="5.8"/><circle cx="298.7" cy="207.6" r="5.8"/><circle cx="281.0" cy="276.1" r="5.8"/><circle cx="328.9" cy="287.8" r="5.8"/><circle cx="263.2" cy="235.3" r="5.8"/><circle cx="240.2" cy="243.9" r="5.8"/><circle cx="429.6" cy="118.6" r="5.8"/><circle cx="229.5" cy="262.7" r="5.8"/><circle cx="230.3" cy="258.1" r="5.8"/><circle cx="308.9" cy="276.6" r="5.8"/><circle cx="370.1" cy="307.8" r="5.8"/><circle cx="260.8" cy="274.6" r="5.8"/><circle cx="409.2" cy="116.4" r="5.8"/><circle cx="404.9" cy="114.7" r="5.8"/><circle cx="431.8" cy="115.3" r="5.8"/><circle cx="291.0" cy="271.1" r="5.8"/><circle cx="288.3" cy="267.3" r="5.8"/><circle cx="402.4" cy="287.9" r="5.8"/><circle cx="300.4" cy="195.8" r="5.8"/><circle cx="300.1" cy="191.2" r="5.8"/><circle cx="417.9" cy="277.6" r="5.8"/><circle cx="272.5" cy="270.0" r="5.8"/><circle cx="459.9" cy="232.2" r="5.8"/><circle cx="464.3" cy="233.7" r="5.8"/><circle cx="429.0" cy="275.1" r="5.8"/><circle cx="248.1" cy="242.9" r="5.8"/><circle cx="372.2" cy="146.2" r="5.8"/><circle cx="237.3" cy="234.9" r="5.8"/><circle cx="321.4" cy="183.4" r="5.8"/><circle cx="319.3" cy="187.5" r="5.8"/><circle cx="344.0" cy="163.0" r="5.8"/><circle cx="450.4" cy="265.6" r="5.8"/><circle cx="403.5" cy="284.2" r="5.8"/><circle cx="223.3" cy="256.7" r="5.8"/><circle cx="428.5" cy="127.9" r="5.8"/><circle cx="350.0" cy="161.4" r="5.8"/><circle cx="350.3" cy="166.0" r="5.8"/><circle cx="314.5" cy="189.4" r="5.8"/><circle cx="318.7" cy="187.4" r="5.8"/><circle cx="381.1" cy="308.8" r="5.8"/><circle cx="251.8" cy="234.1" r="5.8"/><circle cx="255.3" cy="231.1" r="5.8"/><circle cx="352.9" cy="301.2" r="5.8"/><circle cx="357.5" cy="301.3" r="5.8"/><circle cx="451.1" cy="167.0" r="5.8"/><circle cx="269.5" cy="222.9" r="5.8"/><circle cx="274.1" cy="222.7" r="5.8"/><circle cx="297.0" cy="275.1" r="5.8"/><circle cx="440.7" cy="256.8" r="5.8"/><circle cx="440.6" cy="261.4" r="5.8"/><circle cx="303.9" cy="278.6" r="5.8"/><circle cx="304.5" cy="274.0" r="5.8"/><circle cx="434.0" cy="264.7" r="5.8"/><circle cx="431.9" cy="268.8" r="5.8"/><circle cx="369.0" cy="300.0" r="5.8"/><circle cx="370.0" cy="295.5" r="5.8"/><circle cx="431.5" cy="144.9" r="5.8"/><circle cx="436.0" cy="143.9" r="5.8"/><circle cx="271.5" cy="211.8" r="5.8"/><circle cx="258.2" cy="216.6" r="5.8"/><circle cx="371.2" cy="318.4" r="5.8"/><circle cx="436.4" cy="126.4" r="5.8"/><circle cx="301.0" cy="186.9" r="5.8"/><circle cx="428.7" cy="272.0" r="5.8"/><circle cx="383.1" cy="296.1" r="5.8"/><circle cx="383.1" cy="138.8" r="5.8"/><circle cx="286.5" cy="197.3" r="5.8"/><circle cx="472.3" cy="254.1" r="5.8"/><circle cx="475.9" cy="257.0" r="5.8"/><circle cx="414.3" cy="116.8" r="5.8"/><circle cx="417.5" cy="113.4" r="5.8"/><circle cx="277.7" cy="218.6" r="5.8"/><circle cx="278.0" cy="223.2" r="5.8"/><circle cx="263.0" cy="277.1" r="5.8"/><circle cx="313.1" cy="191.9" r="5.8"/><circle cx="311.0" cy="196.0" r="5.8"/><circle cx="303.8" cy="179.8" r="5.8"/><circle cx="307.3" cy="176.8" r="5.8"/><circle cx="264.2" cy="278.0" r="5.8"/><circle cx="262.7" cy="273.6" r="5.8"/><circle cx="429.8" cy="263.7" r="5.8"/><circle cx="431.0" cy="268.2" r="5.8"/><circle cx="439.8" cy="148.2" r="5.8"/><circle cx="364.0" cy="314.6" r="5.8"/><circle cx="357.8" cy="155.0" r="5.8"/><circle cx="353.2" cy="154.6" r="5.8"/><circle cx="416.2" cy="123.4" r="5.8"/><circle cx="361.3" cy="320.3" r="5.8"/><circle cx="361.6" cy="324.9" r="5.8"/><circle cx="421.2" cy="110.2" r="5.8"/><circle cx="423.4" cy="114.2" r="5.8"/><circle cx="312.3" cy="181.6" r="5.8"/><circle cx="434.0" cy="125.2" r="5.8"/><circle cx="430.9" cy="128.6" r="5.8"/><circle cx="883.6" cy="211.4" r="5.8"/><circle cx="887.1" cy="214.4" r="5.8"/><circle cx="870.8" cy="216.5" r="5.8"/><circle cx="824.2" cy="132.5" r="5.8"/><circle cx="828.8" cy="132.7" r="5.8"/><circle cx="831.7" cy="136.3" r="5.8"/><circle cx="919.5" cy="180.3" r="5.8"/><circle cx="918.9" cy="184.9" r="5.8"/><circle cx="918.5" cy="189.5" r="5.8"/><circle cx="877.7" cy="221.6" r="5.8"/><circle cx="824.3" cy="185.0" r="5.8"/><circle cx="816.7" cy="176.3" r="5.8"/><circle cx="821.2" cy="175.2" r="5.8"/><circle cx="856.2" cy="126.4" r="5.8"/><circle cx="860.5" cy="127.9" r="5.8"/><circle cx="865.1" cy="127.7" r="5.8"/><circle cx="869.3" cy="125.7" r="5.8"/><circle cx="873.8" cy="126.2" r="5.8"/><circle cx="856.4" cy="162.9" r="5.8"/><circle cx="860.1" cy="165.7" r="5.8"/><circle cx="863.6" cy="168.7" r="5.8"/><circle cx="898.9" cy="134.5" r="5.8"/><circle cx="897.6" cy="138.9" r="5.8"/><circle cx="893.6" cy="141.3" r="5.8"/><circle cx="889.7" cy="143.8" r="5.8"/><circle cx="889.5" cy="148.4" r="5.8"/><circle cx="868.3" cy="177.9" r="5.8"/><circle cx="871.6" cy="181.1" r="5.8"/><circle cx="876.1" cy="182.1" r="5.8"/><circle cx="857.7" cy="147.6" r="5.8"/><circle cx="858.7" cy="143.1" r="5.8"/><circle cx="865.7" cy="103.8" r="5.8"/><circle cx="861.2" cy="104.7" r="5.8"/><circle cx="858.2" cy="101.3" r="5.8"/><circle cx="878.0" cy="224.7" r="5.8"/><circle cx="880.9" cy="221.1" r="5.8"/><circle cx="885.0" cy="219.1" r="5.8"/><circle cx="865.6" cy="152.4" r="5.8"/><circle cx="862.9" cy="148.7" r="5.8"/><circle cx="905.0" cy="131.6" r="5.8"/><circle cx="900.5" cy="130.6" r="5.8"/><circle cx="896.9" cy="127.6" r="5.8"/><circle cx="930.6" cy="179.8" r="5.8"/><circle cx="926.5" cy="181.9" r="5.8"/><circle cx="922.6" cy="184.3" r="5.8"/><circle cx="875.6" cy="225.4" r="5.8"/><circle cx="878.4" cy="229.0" r="5.8"/><circle cx="882.7" cy="227.2" r="5.8"/><circle cx="893.3" cy="129.4" r="5.8"/><circle cx="890.4" cy="220.3" r="5.8"/><circle cx="888.9" cy="215.9" r="5.8"/><circle cx="886.9" cy="199.3" r="5.8"/><circle cx="891.3" cy="200.6" r="5.8"/><circle cx="892.6" cy="196.2" r="5.8"/><circle cx="841.5" cy="142.4" r="5.8"/><circle cx="837.7" cy="139.9" r="5.8"/><circle cx="836.2" cy="135.5" r="5.8"/><circle cx="834.1" cy="131.5" r="5.8"/><circle cx="866.8" cy="101.6" r="5.8"/><circle cx="865.0" cy="97.3" r="5.8"/><circle cx="863.2" cy="101.6" r="5.8"/><circle cx="854.6" cy="189.8" r="5.8"/><circle cx="850.0" cy="190.1" r="5.8"/><circle cx="847.6" cy="194.0" r="5.8"/><circle cx="848.9" cy="198.4" r="5.8"/><circle cx="916.8" cy="156.4" r="5.8"/><circle cx="912.8" cy="153.9" r="5.8"/><circle cx="909.8" cy="150.5" r="5.8"/><circle cx="905.8" cy="148.2" r="5.8"/><circle cx="905.8" cy="143.6" r="5.8"/><circle cx="843.8" cy="184.7" r="5.8"/><circle cx="846.0" cy="180.7" r="5.8"/><circle cx="842.5" cy="177.7" r="5.8"/><circle cx="838.0" cy="176.8" r="5.8"/><circle cx="937.2" cy="160.7" r="5.8"/><circle cx="939.2" cy="164.8" r="5.8"/><circle cx="893.6" cy="153.1" r="5.8"/><circle cx="882.9" cy="124.7" r="5.8"/><circle cx="886.5" cy="121.8" r="5.8"/><circle cx="889.1" cy="118.0" r="5.8"/><circle cx="912.3" cy="130.2" r="5.8"/><circle cx="916.8" cy="137.5" r="5.8"/><circle cx="929.2" cy="192.8" r="5.8"/><circle cx="893.4" cy="127.5" r="5.8"/><circle cx="894.8" cy="131.9" r="5.8"/><circle cx="896.8" cy="136.0" r="5.8"/><circle cx="859.3" cy="142.3" r="5.8"/><circle cx="857.8" cy="146.6" r="5.8"/><circle cx="856.2" cy="142.3" r="5.8"/><circle cx="850.3" cy="143.1" r="5.8"/><circle cx="847.6" cy="139.4" r="5.8"/><circle cx="889.7" cy="160.7" r="5.8"/><circle cx="889.5" cy="156.1" r="5.8"/><circle cx="869.9" cy="158.0" r="5.8"/><circle cx="874.4" cy="157.3" r="5.8"/><circle cx="877.8" cy="154.2" r="5.8"/><circle cx="831.7" cy="138.9" r="5.8"/><circle cx="827.5" cy="137.0" r="5.8"/><circle cx="823.9" cy="134.1" r="5.8"/><circle cx="878.1" cy="128.6" r="5.8"/><circle cx="936.3" cy="171.2" r="5.8"/><circle cx="907.3" cy="167.6" r="5.8"/><circle cx="906.3" cy="172.1" r="5.8"/><circle cx="910.9" cy="172.5" r="5.8"/><circle cx="848.4" cy="142.2" r="5.8"/><circle cx="849.8" cy="146.6" r="5.8"/><circle cx="854.3" cy="147.9" r="5.8"/><circle cx="858.9" cy="147.9" r="5.8"/><circle cx="864.9" cy="141.1" r="5.8"/><circle cx="868.9" cy="143.4" r="5.8"/><circle cx="866.2" cy="115.7" r="5.8"/><circle cx="844.9" cy="167.7" r="5.8"/><circle cx="849.2" cy="165.9" r="5.8"/><circle cx="844.8" cy="164.5" r="5.8"/><circle cx="841.8" cy="161.0" r="5.8"/><circle cx="837.3" cy="161.8" r="5.8"/><circle cx="865.7" cy="176.0" r="5.8"/><circle cx="866.5" cy="171.5" r="5.8"/><circle cx="864.3" cy="167.4" r="5.8"/><circle cx="861.3" cy="163.9" r="5.8"/><circle cx="878.8" cy="180.9" r="5.8"/><circle cx="883.4" cy="180.7" r="5.8"/><circle cx="923.7" cy="146.5" r="5.8"/><circle cx="926.7" cy="143.0" r="5.8"/><circle cx="914.7" cy="191.3" r="5.8"/><circle cx="918.5" cy="188.7" r="5.8"/><circle cx="921.2" cy="192.4" r="5.8"/><circle cx="888.7" cy="177.8" r="5.8"/><circle cx="930.9" cy="171.7" r="5.8"/><circle cx="926.9" cy="169.4" r="5.8"/><circle cx="925.2" cy="165.1" r="5.8"/><circle cx="922.6" cy="161.3" r="5.8"/><circle cx="918.8" cy="158.8" r="5.8"/><circle cx="855.2" cy="147.5" r="5.8"/><circle cx="856.6" cy="143.0" r="5.8"/><circle cx="859.2" cy="139.3" r="5.8"/><circle cx="862.9" cy="136.6" r="5.8"/><circle cx="859.6" cy="211.5" r="5.8"/><circle cx="855.6" cy="209.2" r="5.8"/><circle cx="851.0" cy="208.5" r="5.8"/><circle cx="829.0" cy="187.0" r="5.8"/><circle cx="832.0" cy="183.6" r="5.8"/><circle cx="900.0" cy="148.2" r="5.8"/><circle cx="895.7" cy="149.7" r="5.8"/><circle cx="915.2" cy="131.7" r="5.8"/><circle cx="849.3" cy="142.0" r="5.8"/><circle cx="845.7" cy="144.8" r="5.8"/><circle cx="841.1" cy="145.1" r="5.8"/><circle cx="836.7" cy="143.7" r="5.8"/><circle cx="867.9" cy="209.9" r="5.8"/><circle cx="869.2" cy="205.5" r="5.8"/><circle cx="867.7" cy="201.1" r="5.8"/><circle cx="868.9" cy="183.1" r="5.8"/><circle cx="867.9" cy="187.6" r="5.8"/><circle cx="861.5" cy="191.5" r="5.8"/><circle cx="825.0" cy="159.6" r="5.8"/><circle cx="828.4" cy="162.7" r="5.8"/><circle cx="831.6" cy="166.0" r="5.8"/><circle cx="834.8" cy="169.3" r="5.8"/><circle cx="889.1" cy="162.1" r="5.8"/><circle cx="886.7" cy="166.0" r="5.8"/><circle cx="882.8" cy="168.4" r="5.8"/><circle cx="878.2" cy="167.9" r="5.8"/><circle cx="876.4" cy="169.2" r="5.8"/><circle cx="878.3" cy="165.0" r="5.8"/><circle cx="884.2" cy="206.5" r="5.8"/><circle cx="877.1" cy="218.0" r="5.8"/><circle cx="874.5" cy="221.7" r="5.8"/><circle cx="869.9" cy="220.9" r="5.8"/><circle cx="866.1" cy="218.3" r="5.8"/><circle cx="867.2" cy="179.7" r="5.8"/><circle cx="856.8" cy="170.1" r="5.8"/><circle cx="861.4" cy="169.9" r="5.8"/><circle cx="865.3" cy="172.3" r="5.8"/><circle cx="869.7" cy="173.8" r="5.8"/><circle cx="872.6" cy="177.3" r="5.8"/><circle cx="878.9" cy="155.9" r="5.8"/><circle cx="883.0" cy="153.9" r="5.8"/><circle cx="887.1" cy="151.8" r="5.8"/><circle cx="869.5" cy="173.2" r="5.8"/><circle cx="865.1" cy="174.5" r="5.8"/><circle cx="861.7" cy="162.3" r="5.8"/><circle cx="859.6" cy="158.2" r="5.8"/><circle cx="863.4" cy="155.6" r="5.8"/><circle cx="865.5" cy="151.5" r="5.8"/><circle cx="869.8" cy="149.9" r="5.8"/><circle cx="842.5" cy="158.7" r="5.8"/><circle cx="847.0" cy="159.2" r="5.8"/><circle cx="871.8" cy="230.6" r="5.8"/><circle cx="889.5" cy="121.1" r="5.8"/><circle cx="894.1" cy="120.3" r="5.8"/><circle cx="881.8" cy="118.0" r="5.8"/><circle cx="878.8" cy="114.6" r="5.8"/><circle cx="919.2" cy="197.4" r="5.8"/><circle cx="914.7" cy="198.4" r="5.8"/><circle cx="910.1" cy="198.3" r="5.8"/><circle cx="905.5" cy="198.5" r="5.8"/><circle cx="919.5" cy="137.6" r="5.8"/><circle cx="918.3" cy="142.0" r="5.8"/><circle cx="922.1" cy="144.7" r="5.8"/><circle cx="926.1" cy="146.9" r="5.8"/><circle cx="930.6" cy="146.1" r="5.8"/><circle cx="898.2" cy="128.5" r="5.8"/><circle cx="901.2" cy="131.9" r="5.8"/><circle cx="905.8" cy="132.0" r="5.8"/><circle cx="842.9" cy="174.1" r="5.8"/><circle cx="845.8" cy="177.7" r="5.8"/><circle cx="847.0" cy="182.1" r="5.8"/><circle cx="849.9" cy="185.7" r="5.8"/><circle cx="819.9" cy="146.0" r="5.8"/><circle cx="824.3" cy="144.8" r="5.8"/><circle cx="880.8" cy="137.2" r="5.8"/><circle cx="876.6" cy="135.4" r="5.8"/><circle cx="873.1" cy="138.4" r="5.8"/><circle cx="869.2" cy="140.8" r="5.8"/><circle cx="852.9" cy="179.7" r="5.8"/><circle cx="854.9" cy="175.5" r="5.8"/><circle cx="933.1" cy="190.2" r="5.8"/><circle cx="937.5" cy="189.2" r="5.8"/><circle cx="916.1" cy="199.9" r="5.8"/><circle cx="911.9" cy="198.2" r="5.8"/><circle cx="908.5" cy="195.1" r="5.8"/><circle cx="906.2" cy="191.1" r="5.8"/><circle cx="903.3" cy="187.5" r="5.8"/><circle cx="820.0" cy="179.0" r="5.8"/><circle cx="906.8" cy="147.1" r="5.8"/><circle cx="924.2" cy="164.6" r="5.8"/><circle cx="828.3" cy="129.6" r="5.8"/><circle cx="832.2" cy="132.1" r="5.8"/><circle cx="836.3" cy="134.2" r="5.8"/><circle cx="881.9" cy="168.5" r="5.8"/><circle cx="878.5" cy="171.6" r="5.8"/><circle cx="905.8" cy="172.5" r="5.8"/><circle cx="876.1" cy="209.7" r="5.8"/><circle cx="873.1" cy="206.2" r="5.8"/><circle cx="802.7" cy="149.0" r="5.8"/><circle cx="832.6" cy="218.4" r="5.8"/><circle cx="909.4" cy="214.0" r="5.8"/><circle cx="898.8" cy="238.0" r="5.8"/><circle cx="891.4" cy="230.6" r="5.8"/><circle cx="888.7" cy="226.9" r="5.8"/><circle cx="865.7" cy="234.4" r="5.8"/><circle cx="866.7" cy="229.9" r="5.8"/><circle cx="942.7" cy="190.6" r="5.8"/><circle cx="928.1" cy="209.5" r="5.8"/><circle cx="932.1" cy="211.8" r="5.8"/><circle cx="903.5" cy="236.3" r="5.8"/><circle cx="900.4" cy="239.7" r="5.8"/><circle cx="936.9" cy="198.4" r="5.8"/><circle cx="944.8" cy="161.3" r="5.8"/><circle cx="956.3" cy="178.7" r="5.8"/><circle cx="904.3" cy="218.9" r="5.8"/><circle cx="906.2" cy="214.7" r="5.8"/><circle cx="843.1" cy="214.1" r="5.8"/><circle cx="815.1" cy="192.8" r="5.8"/><circle cx="945.1" cy="173.1" r="5.8"/><circle cx="940.6" cy="174.1" r="5.8"/><circle cx="858.8" cy="231.9" r="5.8"/><circle cx="910.4" cy="225.6" r="5.8"/><circle cx="906.9" cy="222.6" r="5.8"/><circle cx="848.6" cy="241.4" r="5.8"/><circle cx="813.2" cy="149.3" r="5.8"/><circle cx="817.3" cy="151.4" r="5.8"/><circle cx="813.0" cy="128.9" r="5.8"/><circle cx="932.9" cy="203.5" r="5.8"/><circle cx="856.9" cy="246.8" r="5.8"/><circle cx="852.3" cy="246.9" r="5.8"/><circle cx="889.0" cy="245.5" r="5.8"/><circle cx="814.1" cy="138.1" r="5.8"/><circle cx="818.7" cy="138.5" r="5.8"/><circle cx="957.9" cy="182.9" r="5.8"/><circle cx="828.8" cy="120.3" r="5.8"/><circle cx="829.4" cy="115.7" r="5.8"/><circle cx="899.6" cy="216.8" r="5.8"/><circle cx="897.1" cy="220.7" r="5.8"/><circle cx="562.3" cy="570.1" r="5.8"/><circle cx="542.8" cy="598.8" r="5.8"/><circle cx="543.2" cy="594.2" r="5.8"/><circle cx="540.4" cy="590.6" r="5.8"/><circle cx="536.4" cy="588.3" r="5.8"/><circle cx="613.5" cy="527.3" r="5.8"/><circle cx="560.8" cy="535.6" r="5.8"/><circle cx="634.6" cy="527.9" r="5.8"/><circle cx="633.2" cy="532.3" r="5.8"/><circle cx="632.0" cy="536.7" r="5.8"/><circle cx="638.4" cy="515.8" r="5.8"/><circle cx="645.3" cy="558.5" r="5.8"/><circle cx="641.5" cy="561.2" r="5.8"/><circle cx="548.9" cy="519.7" r="5.8"/><circle cx="546.1" cy="587.3" r="5.8"/><circle cx="544.4" cy="591.5" r="5.8"/><circle cx="542.5" cy="595.7" r="5.8"/><circle cx="670.4" cy="557.6" r="5.8"/><circle cx="663.7" cy="561.9" r="5.8"/><circle cx="702.4" cy="549.4" r="5.8"/><circle cx="705.7" cy="546.2" r="5.8"/><circle cx="489.2" cy="575.6" r="5.8"/><circle cx="654.7" cy="551.8" r="5.8"/><circle cx="672.5" cy="540.6" r="5.8"/><circle cx="669.2" cy="543.8" r="5.8"/><circle cx="665.5" cy="546.6" r="5.8"/><circle cx="661.5" cy="548.7" r="5.8"/><circle cx="684.1" cy="544.6" r="5.8"/><circle cx="684.6" cy="549.1" r="5.8"/><circle cx="648.8" cy="561.4" r="5.8"/><circle cx="650.4" cy="557.1" r="5.8"/><circle cx="655.0" cy="556.3" r="5.8"/><circle cx="655.8" cy="560.8" r="5.8"/><circle cx="637.8" cy="552.4" r="5.8"/><circle cx="642.4" cy="552.1" r="5.8"/><circle cx="555.6" cy="573.0" r="5.8"/><circle cx="560.1" cy="572.0" r="5.8"/><circle cx="644.7" cy="530.3" r="5.8"/><circle cx="576.4" cy="546.3" r="5.8"/><circle cx="577.3" cy="550.8" r="5.8"/><circle cx="598.4" cy="562.1" r="5.8"/><circle cx="647.6" cy="519.5" r="5.8"/><circle cx="501.9" cy="556.2" r="5.8"/><circle cx="500.0" cy="560.4" r="5.8"/><circle cx="497.9" cy="564.4" r="5.8"/><circle cx="495.9" cy="568.6" r="5.8"/><circle cx="663.4" cy="555.3" r="5.8"/><circle cx="612.8" cy="551.2" r="5.8"/><circle cx="616.7" cy="548.7" r="5.8"/><circle cx="661.0" cy="551.3" r="5.8"/><circle cx="665.4" cy="549.9" r="5.8"/><circle cx="612.2" cy="518.0" r="5.8"/><circle cx="537.8" cy="536.8" r="5.8"/><circle cx="533.4" cy="535.5" r="5.8"/><circle cx="529.0" cy="534.2" r="5.8"/><circle cx="631.8" cy="564.0" r="5.8"/><circle cx="633.4" cy="559.7" r="5.8"/><circle cx="634.2" cy="555.1" r="5.8"/><circle cx="632.8" cy="550.8" r="5.8"/><circle cx="476.4" cy="575.7" r="5.8"/><circle cx="476.4" cy="571.1" r="5.8"/><circle cx="677.3" cy="526.3" r="5.8"/><circle cx="681.6" cy="524.7" r="5.8"/><circle cx="686.2" cy="524.9" r="5.8"/><circle cx="690.4" cy="526.8" r="5.8"/><circle cx="578.1" cy="566.1" r="5.8"/><circle cx="577.7" cy="561.6" r="5.8"/><circle cx="580.0" cy="557.6" r="5.8"/><circle cx="518.6" cy="589.8" r="5.8"/><circle cx="522.8" cy="588.0" r="5.8"/><circle cx="525.4" cy="591.7" r="5.8"/><circle cx="520.5" cy="541.0" r="5.8"/><circle cx="520.0" cy="545.5" r="5.8"/><circle cx="538.9" cy="566.5" r="5.8"/><circle cx="592.2" cy="568.6" r="5.8"/><circle cx="587.6" cy="567.9" r="5.8"/><circle cx="585.2" cy="564.0" r="5.8"/><circle cx="581.5" cy="561.4" r="5.8"/><circle cx="620.8" cy="529.8" r="5.8"/><circle cx="637.1" cy="548.9" r="5.8"/><circle cx="641.7" cy="548.5" r="5.8"/><circle cx="531.7" cy="545.3" r="5.8"/><circle cx="619.2" cy="565.7" r="5.8"/><circle cx="620.5" cy="561.3" r="5.8"/><circle cx="632.4" cy="537.5" r="5.8"/><circle cx="593.3" cy="516.8" r="5.8"/><circle cx="587.1" cy="589.0" r="5.8"/><circle cx="586.8" cy="584.4" r="5.8"/><circle cx="587.2" cy="579.9" r="5.8"/><circle cx="589.1" cy="575.7" r="5.8"/><circle cx="631.1" cy="550.2" r="5.8"/><circle cx="673.2" cy="551.6" r="5.8"/><circle cx="668.9" cy="549.9" r="5.8"/><circle cx="517.5" cy="587.0" r="5.8"/><circle cx="518.9" cy="582.6" r="5.8"/><circle cx="520.8" cy="578.4" r="5.8"/><circle cx="500.8" cy="569.4" r="5.8"/><circle cx="503.3" cy="565.6" r="5.8"/><circle cx="506.5" cy="562.3" r="5.8"/><circle cx="555.9" cy="568.8" r="5.8"/><circle cx="553.7" cy="564.8" r="5.8"/><circle cx="527.8" cy="593.8" r="5.8"/><circle cx="529.3" cy="589.4" r="5.8"/><circle cx="533.7" cy="588.2" r="5.8"/><circle cx="523.7" cy="543.1" r="5.8"/><circle cx="502.7" cy="578.5" r="5.8"/><circle cx="515.7" cy="544.7" r="5.8"/><circle cx="511.3" cy="546.2" r="5.8"/><circle cx="507.0" cy="547.7" r="5.8"/><circle cx="502.5" cy="548.8" r="5.8"/><circle cx="552.6" cy="535.5" r="5.8"/><circle cx="548.1" cy="534.2" r="5.8"/><circle cx="545.5" cy="530.5" r="5.8"/><circle cx="545.3" cy="525.9" r="5.8"/><circle cx="490.9" cy="553.3" r="5.8"/><circle cx="494.3" cy="556.4" r="5.8"/><circle cx="508.8" cy="534.1" r="5.8"/><circle cx="504.3" cy="535.1" r="5.8"/><circle cx="644.5" cy="560.7" r="5.8"/><circle cx="646.1" cy="556.4" r="5.8"/><circle cx="650.5" cy="557.7" r="5.8"/><circle cx="650.9" cy="562.2" r="5.8"/><circle cx="503.8" cy="587.8" r="5.8"/><circle cx="579.0" cy="552.3" r="5.8"/><circle cx="583.2" cy="554.3" r="5.8"/><circle cx="539.9" cy="528.6" r="5.8"/><circle cx="542.5" cy="524.8" r="5.8"/><circle cx="546.6" cy="522.7" r="5.8"/><circle cx="586.9" cy="566.6" r="5.8"/><circle cx="469.9" cy="568.4" r="5.8"/><circle cx="469.4" cy="563.9" r="5.8"/><circle cx="552.2" cy="591.3" r="5.8"/><circle cx="550.2" cy="595.4" r="5.8"/><circle cx="639.5" cy="550.6" r="5.8"/><circle cx="640.5" cy="546.1" r="5.8"/><circle cx="642.2" cy="541.8" r="5.8"/><circle cx="560.6" cy="571.2" r="5.8"/><circle cx="561.7" cy="575.6" r="5.8"/><circle cx="562.4" cy="580.2" r="5.8"/><circle cx="559.3" cy="583.5" r="5.8"/><circle cx="614.3" cy="529.6" r="5.8"/><circle cx="616.1" cy="525.4" r="5.8"/><circle cx="505.5" cy="547.3" r="5.8"/><circle cx="509.5" cy="545.0" r="5.8"/><circle cx="513.6" cy="543.0" r="5.8"/><circle cx="667.2" cy="524.1" r="5.8"/><circle cx="664.6" cy="520.3" r="5.8"/><circle cx="662.6" cy="516.2" r="5.8"/><circle cx="599.8" cy="534.8" r="5.8"/><circle cx="595.2" cy="535.2" r="5.8"/><circle cx="540.8" cy="577.8" r="5.8"/><circle cx="540.7" cy="582.4" r="5.8"/><circle cx="537.0" cy="585.2" r="5.8"/><circle cx="536.4" cy="589.7" r="5.8"/><circle cx="527.9" cy="594.8" r="5.8"/><circle cx="479.3" cy="577.9" r="5.8"/><circle cx="622.2" cy="556.2" r="5.8"/><circle cx="623.9" cy="560.5" r="5.8"/><circle cx="628.7" cy="543.4" r="5.8"/><circle cx="624.1" cy="542.7" r="5.8"/><circle cx="524.1" cy="544.5" r="5.8"/><circle cx="528.2" cy="542.4" r="5.8"/><circle cx="530.8" cy="538.6" r="5.8"/><circle cx="696.5" cy="533.3" r="5.8"/><circle cx="620.8" cy="526.4" r="5.8"/><circle cx="623.6" cy="522.8" r="5.8"/><circle cx="560.3" cy="522.2" r="5.8"/><circle cx="560.0" cy="517.6" r="5.8"/><circle cx="514.7" cy="534.1" r="5.8"/><circle cx="517.0" cy="538.1" r="5.8"/><circle cx="620.5" cy="552.4" r="5.8"/><circle cx="617.8" cy="556.1" r="5.8"/><circle cx="616.6" cy="560.5" r="5.8"/><circle cx="505.0" cy="553.5" r="5.8"/><circle cx="508.5" cy="550.5" r="5.8"/><circle cx="616.3" cy="536.4" r="5.8"/><circle cx="612.4" cy="534.0" r="5.8"/><circle cx="698.9" cy="527.8" r="5.8"/><circle cx="695.5" cy="524.7" r="5.8"/><circle cx="691.4" cy="522.7" r="5.8"/><circle cx="477.9" cy="551.1" r="5.8"/><circle cx="593.1" cy="575.4" r="5.8"/><circle cx="510.6" cy="552.4" r="5.8"/><circle cx="515.2" cy="552.9" r="5.8"/><circle cx="518.2" cy="556.4" r="5.8"/><circle cx="615.0" cy="572.8" r="5.8"/><circle cx="508.2" cy="593.6" r="5.8"/><circle cx="565.7" cy="536.7" r="5.8"/><circle cx="566.3" cy="532.2" r="5.8"/><circle cx="568.8" cy="528.3" r="5.8"/><circle cx="485.1" cy="562.8" r="5.8"/><circle cx="484.6" cy="567.4" r="5.8"/><circle cx="489.0" cy="568.9" r="5.8"/><circle cx="493.2" cy="570.6" r="5.8"/><circle cx="624.7" cy="560.9" r="5.8"/><circle cx="625.6" cy="565.5" r="5.8"/><circle cx="668.0" cy="551.3" r="5.8"/><circle cx="665.0" cy="547.8" r="5.8"/><circle cx="661.7" cy="544.6" r="5.8"/><circle cx="660.5" cy="540.1" r="5.8"/><circle cx="513.9" cy="574.7" r="5.8"/><circle cx="509.3" cy="574.0" r="5.8"/><circle cx="538.3" cy="569.7" r="5.8"/><circle cx="534.7" cy="572.6" r="5.8"/><circle cx="545.1" cy="573.4" r="5.8"/><circle cx="540.8" cy="571.8" r="5.8"/><circle cx="538.1" cy="568.0" r="5.8"/><circle cx="539.4" cy="536.6" r="5.8"/><circle cx="534.8" cy="535.7" r="5.8"/><circle cx="677.1" cy="551.7" r="5.8"/><circle cx="578.8" cy="538.1" r="5.8"/><circle cx="587.9" cy="550.6" r="5.8"/><circle cx="588.1" cy="546.0" r="5.8"/><circle cx="588.7" cy="541.4" r="5.8"/><circle cx="586.1" cy="537.7" r="5.8"/><circle cx="487.7" cy="551.1" r="5.8"/><circle cx="487.2" cy="546.6" r="5.8"/><circle cx="491.0" cy="543.9" r="5.8"/><circle cx="477.5" cy="571.6" r="5.8"/><circle cx="668.4" cy="565.2" r="5.8"/><circle cx="579.5" cy="606.9" r="5.8"/><circle cx="576.0" cy="603.9" r="5.8"/><circle cx="584.2" cy="596.4" r="5.8"/><circle cx="627.5" cy="500.7" r="5.8"/><circle cx="605.7" cy="495.2" r="5.8"/><circle cx="625.7" cy="499.7" r="5.8"/><circle cx="623.8" cy="495.4" r="5.8"/><circle cx="586.0" cy="500.2" r="5.8"/><circle cx="587.7" cy="495.9" r="5.8"/><circle cx="686.0" cy="562.1" r="5.8"/><circle cx="681.6" cy="563.4" r="5.8"/><circle cx="682.6" cy="561.6" r="5.8"/><circle cx="551.4" cy="607.1" r="5.8"/><circle cx="649.5" cy="506.0" r="5.8"/><circle cx="514.3" cy="598.2" r="5.8"/><circle cx="518.1" cy="600.7" r="5.8"/><circle cx="477.8" cy="543.2" r="5.8"/><circle cx="482.4" cy="542.8" r="5.8"/><circle cx="587.8" cy="600.4" r="5.8"/><circle cx="601.9" cy="511.0" r="5.8"/><circle cx="578.4" cy="504.9" r="5.8"/><circle cx="582.5" cy="506.8" r="5.8"/><circle cx="517.7" cy="514.6" r="5.8"/><circle cx="571.8" cy="504.2" r="5.8"/><circle cx="574.9" cy="500.8" r="5.8"/><circle cx="521.0" cy="517.5" r="5.8"/><circle cx="520.4" cy="522.0" r="5.8"/><circle cx="572.5" cy="510.8" r="5.8"/><circle cx="587.7" cy="515.7" r="5.8"/><circle cx="583.1" cy="515.7" r="5.8"/><circle cx="556.5" cy="502.2" r="5.8"/><circle cx="561.1" cy="502.2" r="5.8"/><circle cx="598.8" cy="498.9" r="5.8"/><circle cx="596.7" cy="494.8" r="5.8"/><circle cx="495.3" cy="537.2" r="5.8"/><circle cx="493.7" cy="532.9" r="5.8"/><circle cx="545.4" cy="605.5" r="5.8"/><circle cx="540.8" cy="605.8" r="5.8"/><circle cx="463.1" cy="558.8" r="5.8"/><circle cx="461.6" cy="554.4" r="5.8"/><circle cx="614.6" cy="586.7" r="5.8"/><circle cx="647.3" cy="510.6" r="5.8"/><circle cx="557.1" cy="505.0" r="5.8"/><circle cx="640.0" cy="568.4" r="5.8"/><circle cx="550.0" cy="605.1" r="5.8"/><circle cx="709.6" cy="545.3" r="5.8"/><circle cx="709.5" cy="549.9" r="5.8"/><circle cx="464.3" cy="573.4" r="5.8"/><circle cx="632.9" cy="498.0" r="5.8"/><circle cx="574.1" cy="598.0" r="5.8"/><circle cx="569.5" cy="597.4" r="5.8"/><circle cx="586.6" cy="602.9" r="5.8"/><circle cx="671.0" cy="499.5" r="5.8"/><circle cx="657.7" cy="506.1" r="5.8"/><circle cx="478.9" cy="547.0" r="5.8"/><circle cx="714.5" cy="544.4" r="5.8"/><circle cx="561.1" cy="606.1" r="5.8"/><circle cx="683.2" cy="503.5" r="5.8"/><circle cx="652.8" cy="570.1" r="5.8"/><circle cx="654.2" cy="565.7" r="5.8"/><circle cx="692.5" cy="520.1" r="5.8"/><circle cx="695.9" cy="523.3" r="5.8"/><circle cx="609.5" cy="513.1" r="5.8"/><circle cx="612.0" cy="509.3" r="5.8"/></g><g fill="#22ade8"><circle cx="354.4" cy="183.1" r="4.1"/><circle cx="358.6" cy="185.1" r="4.1"/><circle cx="361.9" cy="188.3" r="4.1"/><circle cx="366.4" cy="189.4" r="4.1"/><circle cx="370.3" cy="191.8" r="4.1"/><circle cx="361.1" cy="287.3" r="4.1"/><circle cx="357.6" cy="284.2" r="4.1"/><circle cx="358.4" cy="279.7" r="4.1"/><circle cx="357.5" cy="275.1" r="4.1"/><circle cx="353.2" cy="276.7" r="4.1"/><circle cx="417.2" cy="150.0" r="4.1"/><circle cx="412.7" cy="150.8" r="4.1"/><circle cx="280.5" cy="239.5" r="4.1"/><circle cx="283.3" cy="243.1" r="4.1"/><circle cx="284.6" cy="247.5" r="4.1"/><circle cx="274.7" cy="257.3" r="4.1"/><circle cx="277.2" cy="261.1" r="4.1"/><circle cx="280.9" cy="258.3" r="4.1"/><circle cx="397.8" cy="169.2" r="4.1"/><circle cx="411.2" cy="264.2" r="4.1"/><circle cx="408.8" cy="268.1" r="4.1"/><circle cx="336.6" cy="268.0" r="4.1"/><circle cx="340.7" cy="266.1" r="4.1"/><circle cx="344.2" cy="263.0" r="4.1"/><circle cx="347.4" cy="259.7" r="4.1"/><circle cx="363.9" cy="239.6" r="4.1"/><circle cx="359.4" cy="238.6" r="4.1"/><circle cx="354.9" cy="239.8" r="4.1"/><circle cx="350.8" cy="237.9" r="4.1"/><circle cx="371.2" cy="206.0" r="4.1"/><circle cx="370.3" cy="210.5" r="4.1"/><circle cx="367.5" cy="214.2" r="4.1"/><circle cx="357.5" cy="275.8" r="4.1"/><circle cx="362.0" cy="275.3" r="4.1"/><circle cx="366.5" cy="274.1" r="4.1"/><circle cx="370.4" cy="276.6" r="4.1"/><circle cx="374.5" cy="274.4" r="4.1"/><circle cx="366.4" cy="164.7" r="4.1"/><circle cx="368.7" cy="160.7" r="4.1"/><circle cx="370.0" cy="156.3" r="4.1"/><circle cx="370.5" cy="151.7" r="4.1"/><circle cx="381.1" cy="250.1" r="4.1"/><circle cx="378.3" cy="253.7" r="4.1"/><circle cx="374.0" cy="255.5" r="4.1"/><circle cx="370.0" cy="253.3" r="4.1"/><circle cx="368.3" cy="249.0" r="4.1"/><circle cx="338.8" cy="204.3" r="4.1"/><circle cx="402.3" cy="250.2" r="4.1"/><circle cx="398.7" cy="253.1" r="4.1"/><circle cx="447.7" cy="182.4" r="4.1"/><circle cx="423.8" cy="210.4" r="4.1"/><circle cx="425.2" cy="206.1" r="4.1"/><circle cx="427.3" cy="202.0" r="4.1"/><circle cx="408.9" cy="176.6" r="4.1"/><circle cx="407.4" cy="181.0" r="4.1"/><circle cx="400.1" cy="158.2" r="4.1"/><circle cx="395.6" cy="159.0" r="4.1"/><circle cx="399.5" cy="161.5" r="4.1"/><circle cx="311.5" cy="262.4" r="4.1"/><circle cx="307.5" cy="260.1" r="4.1"/><circle cx="306.1" cy="255.7" r="4.1"/><circle cx="374.2" cy="278.8" r="4.1"/><circle cx="378.5" cy="277.1" r="4.1"/><circle cx="381.7" cy="273.9" r="4.1"/><circle cx="381.0" cy="269.3" r="4.1"/><circle cx="393.8" cy="153.3" r="4.1"/><circle cx="397.8" cy="151.0" r="4.1"/><circle cx="399.3" cy="146.7" r="4.1"/><circle cx="403.3" cy="144.3" r="4.1"/><circle cx="323.1" cy="189.5" r="4.1"/><circle cx="327.6" cy="188.9" r="4.1"/><circle cx="415.1" cy="143.8" r="4.1"/><circle cx="415.4" cy="139.2" r="4.1"/><circle cx="413.0" cy="135.3" r="4.1"/><circle cx="409.2" cy="132.6" r="4.1"/><circle cx="379.9" cy="211.9" r="4.1"/><circle cx="384.5" cy="212.4" r="4.1"/><circle cx="389.1" cy="212.7" r="4.1"/><circle cx="393.6" cy="213.6" r="4.1"/><circle cx="405.5" cy="176.0" r="4.1"/><circle cx="405.1" cy="171.4" r="4.1"/><circle cx="435.5" cy="236.2" r="4.1"/><circle cx="431.3" cy="234.4" r="4.1"/><circle cx="429.9" cy="230.0" r="4.1"/><circle cx="425.5" cy="228.8" r="4.1"/><circle cx="421.0" cy="227.5" r="4.1"/><circle cx="396.8" cy="217.3" r="4.1"/><circle cx="394.8" cy="221.4" r="4.1"/><circle cx="396.8" cy="225.5" r="4.1"/><circle cx="399.5" cy="229.3" r="4.1"/><circle cx="401.1" cy="233.6" r="4.1"/><circle cx="370.2" cy="153.3" r="4.1"/><circle cx="373.2" cy="156.8" r="4.1"/><circle cx="376.8" cy="159.6" r="4.1"/><circle cx="375.7" cy="164.0" r="4.1"/><circle cx="376.6" cy="168.6" r="4.1"/><circle cx="292.5" cy="217.8" r="4.1"/><circle cx="384.4" cy="258.0" r="4.1"/><circle cx="388.3" cy="255.7" r="4.1"/><circle cx="401.7" cy="134.5" r="4.1"/><circle cx="403.5" cy="130.3" r="4.1"/><circle cx="349.9" cy="178.3" r="4.1"/><circle cx="351.8" cy="182.5" r="4.1"/><circle cx="350.9" cy="187.0" r="4.1"/><circle cx="310.1" cy="199.7" r="4.1"/><circle cx="408.9" cy="166.0" r="4.1"/><circle cx="409.1" cy="170.6" r="4.1"/><circle cx="413.1" cy="173.0" r="4.1"/><circle cx="414.2" cy="177.5" r="4.1"/><circle cx="354.6" cy="209.8" r="4.1"/><circle cx="350.1" cy="208.9" r="4.1"/><circle cx="345.8" cy="207.3" r="4.1"/><circle cx="376.5" cy="261.2" r="4.1"/><circle cx="381.0" cy="260.0" r="4.1"/><circle cx="336.0" cy="178.3" r="4.1"/><circle cx="375.2" cy="212.7" r="4.1"/><circle cx="378.5" cy="216.0" r="4.1"/><circle cx="381.7" cy="219.3" r="4.1"/><circle cx="385.2" cy="222.3" r="4.1"/><circle cx="398.6" cy="216.3" r="4.1"/><circle cx="400.2" cy="220.6" r="4.1"/><circle cx="398.0" cy="224.6" r="4.1"/><circle cx="398.5" cy="229.2" r="4.1"/><circle cx="381.5" cy="215.4" r="4.1"/><circle cx="384.3" cy="211.8" r="4.1"/><circle cx="388.6" cy="210.1" r="4.1"/><circle cx="393.0" cy="208.7" r="4.1"/><circle cx="397.5" cy="209.7" r="4.1"/><circle cx="431.5" cy="194.7" r="4.1"/><circle cx="435.5" cy="192.4" r="4.1"/><circle cx="439.9" cy="193.8" r="4.1"/><circle cx="443.7" cy="191.3" r="4.1"/><circle cx="452.3" cy="215.6" r="4.1"/><circle cx="449.9" cy="219.5" r="4.1"/><circle cx="447.1" cy="223.2" r="4.1"/><circle cx="296.9" cy="235.1" r="4.1"/><circle cx="410.0" cy="224.4" r="4.1"/><circle cx="413.6" cy="221.5" r="4.1"/><circle cx="418.2" cy="221.9" r="4.1"/><circle cx="420.2" cy="226.0" r="4.1"/><circle cx="374.9" cy="249.0" r="4.1"/><circle cx="375.9" cy="244.5" r="4.1"/><circle cx="361.7" cy="263.2" r="4.1"/><circle cx="365.5" cy="260.5" r="4.1"/><circle cx="370.0" cy="259.4" r="4.1"/><circle cx="370.5" cy="254.9" r="4.1"/><circle cx="374.9" cy="253.3" r="4.1"/><circle cx="377.1" cy="289.4" r="4.1"/><circle cx="378.3" cy="293.9" r="4.1"/><circle cx="413.1" cy="251.6" r="4.1"/><circle cx="410.0" cy="248.2" r="4.1"/><circle cx="409.1" cy="243.7" r="4.1"/><circle cx="408.1" cy="239.2" r="4.1"/><circle cx="403.9" cy="237.2" r="4.1"/><circle cx="287.0" cy="253.1" r="4.1"/><circle cx="291.6" cy="253.1" r="4.1"/><circle cx="294.9" cy="249.9" r="4.1"/><circle cx="298.2" cy="246.8" r="4.1"/><circle cx="406.2" cy="228.1" r="4.1"/><circle cx="368.7" cy="177.0" r="4.1"/><circle cx="365.1" cy="174.3" r="4.1"/><circle cx="360.7" cy="172.7" r="4.1"/><circle cx="393.2" cy="168.7" r="4.1"/><circle cx="254.6" cy="251.5" r="4.1"/><circle cx="250.6" cy="253.7" r="4.1"/><circle cx="246.8" cy="251.1" r="4.1"/><circle cx="391.9" cy="159.0" r="4.1"/><circle cx="395.4" cy="156.0" r="4.1"/><circle cx="397.4" cy="151.8" r="4.1"/><circle cx="400.6" cy="148.5" r="4.1"/><circle cx="325.2" cy="247.8" r="4.1"/><circle cx="322.4" cy="251.4" r="4.1"/><circle cx="322.1" cy="256.0" r="4.1"/><circle cx="317.6" cy="256.6" r="4.1"/><circle cx="422.4" cy="139.1" r="4.1"/><circle cx="436.4" cy="169.5" r="4.1"/><circle cx="438.5" cy="173.6" r="4.1"/><circle cx="436.1" cy="177.5" r="4.1"/><circle cx="432.3" cy="174.9" r="4.1"/><circle cx="403.7" cy="270.6" r="4.1"/><circle cx="416.3" cy="230.6" r="4.1"/><circle cx="418.3" cy="226.5" r="4.1"/><circle cx="415.2" cy="223.1" r="4.1"/><circle cx="411.0" cy="221.2" r="4.1"/><circle cx="411.4" cy="216.6" r="4.1"/><circle cx="335.4" cy="252.4" r="4.1"/><circle cx="332.4" cy="255.9" r="4.1"/><circle cx="328.8" cy="258.8" r="4.1"/><circle cx="291.7" cy="249.9" r="4.1"/><circle cx="288.5" cy="246.6" r="4.1"/><circle cx="284.3" cy="244.7" r="4.1"/><circle cx="279.8" cy="245.3" r="4.1"/><circle cx="362.0" cy="276.5" r="4.1"/><circle cx="360.7" cy="272.1" r="4.1"/><circle cx="356.3" cy="270.7" r="4.1"/><circle cx="354.6" cy="266.4" r="4.1"/><circle cx="402.9" cy="206.8" r="4.1"/><circle cx="400.7" cy="202.8" r="4.1"/><circle cx="401.5" cy="198.2" r="4.1"/><circle cx="375.4" cy="272.1" r="4.1"/><circle cx="373.6" cy="276.3" r="4.1"/><circle cx="373.9" cy="280.9" r="4.1"/><circle cx="304.3" cy="263.4" r="4.1"/><circle cx="307.2" cy="259.9" r="4.1"/><circle cx="435.0" cy="202.4" r="4.1"/><circle cx="442.3" cy="212.1" r="4.1"/><circle cx="437.8" cy="213.0" r="4.1"/><circle cx="433.3" cy="212.2" r="4.1"/><circle cx="429.9" cy="209.1" r="4.1"/><circle cx="387.2" cy="286.2" r="4.1"/><circle cx="391.1" cy="283.8" r="4.1"/><circle cx="374.7" cy="212.2" r="4.1"/><circle cx="292.8" cy="259.2" r="4.1"/><circle cx="297.1" cy="261.0" r="4.1"/><circle cx="301.6" cy="261.5" r="4.1"/><circle cx="304.3" cy="265.3" r="4.1"/><circle cx="432.4" cy="202.7" r="4.1"/><circle cx="429.4" cy="206.2" r="4.1"/><circle cx="317.3" cy="205.9" r="4.1"/><circle cx="313.8" cy="202.9" r="4.1"/><circle cx="312.7" cy="198.4" r="4.1"/><circle cx="314.6" cy="194.2" r="4.1"/><circle cx="406.0" cy="152.3" r="4.1"/><circle cx="401.4" cy="153.1" r="4.1"/><circle cx="398.4" cy="156.6" r="4.1"/><circle cx="327.8" cy="236.8" r="4.1"/><circle cx="331.6" cy="234.2" r="4.1"/><circle cx="327.4" cy="244.7" r="4.1"/><circle cx="329.8" cy="248.7" r="4.1"/><circle cx="326.5" cy="251.9" r="4.1"/><circle cx="327.5" cy="256.4" r="4.1"/><circle cx="443.1" cy="176.6" r="4.1"/><circle cx="443.0" cy="172.0" r="4.1"/><circle cx="442.9" cy="167.4" r="4.1"/><circle cx="441.8" cy="162.9" r="4.1"/><circle cx="439.1" cy="159.2" r="4.1"/><circle cx="314.3" cy="264.7" r="4.1"/><circle cx="318.9" cy="264.5" r="4.1"/><circle cx="322.7" cy="267.1" r="4.1"/><circle cx="325.4" cy="270.8" r="4.1"/><circle cx="334.4" cy="175.5" r="4.1"/><circle cx="345.5" cy="168.4" r="4.1"/><circle cx="292.0" cy="251.4" r="4.1"/><circle cx="294.0" cy="247.3" r="4.1"/><circle cx="297.9" cy="244.9" r="4.1"/><circle cx="401.6" cy="241.1" r="4.1"/><circle cx="405.5" cy="238.7" r="4.1"/><circle cx="408.7" cy="242.0" r="4.1"/><circle cx="439.7" cy="231.1" r="4.1"/><circle cx="394.7" cy="201.0" r="4.1"/><circle cx="393.9" cy="196.5" r="4.1"/><circle cx="398.0" cy="194.3" r="4.1"/><circle cx="302.3" cy="241.6" r="4.1"/><circle cx="306.1" cy="244.2" r="4.1"/><circle cx="315.5" cy="257.7" r="4.1"/><circle cx="320.0" cy="258.3" r="4.1"/><circle cx="325.7" cy="233.9" r="4.1"/><circle cx="323.8" cy="238.1" r="4.1"/><circle cx="320.8" cy="234.7" r="4.1"/><circle cx="324.8" cy="232.4" r="4.1"/><circle cx="322.4" cy="228.4" r="4.1"/><circle cx="393.4" cy="197.7" r="4.1"/><circle cx="392.3" cy="202.1" r="4.1"/><circle cx="396.9" cy="202.9" r="4.1"/><circle cx="400.7" cy="205.4" r="4.1"/><circle cx="407.7" cy="253.6" r="4.1"/><circle cx="412.0" cy="251.9" r="4.1"/><circle cx="415.6" cy="249.0" r="4.1"/><circle cx="317.9" cy="249.8" r="4.1"/><circle cx="318.4" cy="254.4" r="4.1"/><circle cx="352.3" cy="234.0" r="4.1"/><circle cx="354.8" cy="237.8" r="4.1"/><circle cx="357.3" cy="241.7" r="4.1"/><circle cx="361.4" cy="239.5" r="4.1"/><circle cx="452.3" cy="222.1" r="4.1"/><circle cx="455.1" cy="218.3" r="4.1"/><circle cx="377.2" cy="244.7" r="4.1"/><circle cx="368.7" cy="234.3" r="4.1"/><circle cx="317.7" cy="228.8" r="4.1"/><circle cx="412.5" cy="215.8" r="4.1"/><circle cx="380.7" cy="188.8" r="4.1"/><circle cx="384.6" cy="191.3" r="4.1"/><circle cx="389.1" cy="192.1" r="4.1"/><circle cx="245.9" cy="251.1" r="4.1"/><circle cx="278.6" cy="248.0" r="4.1"/><circle cx="363.8" cy="182.9" r="4.1"/><circle cx="365.3" cy="178.6" r="4.1"/><circle cx="377.9" cy="280.5" r="4.1"/><circle cx="381.6" cy="283.3" r="4.1"/><circle cx="380.4" cy="287.8" r="4.1"/><circle cx="381.8" cy="292.2" r="4.1"/><circle cx="403.2" cy="259.5" r="4.1"/><circle cx="407.8" cy="260.0" r="4.1"/><circle cx="408.2" cy="264.6" r="4.1"/><circle cx="373.4" cy="265.3" r="4.1"/><circle cx="376.3" cy="268.8" r="4.1"/><circle cx="423.1" cy="238.0" r="4.1"/><circle cx="418.7" cy="236.7" r="4.1"/><circle cx="416.6" cy="232.6" r="4.1"/><circle cx="357.6" cy="229.9" r="4.1"/><circle cx="357.0" cy="234.5" r="4.1"/><circle cx="354.0" cy="238.0" r="4.1"/><circle cx="353.5" cy="242.5" r="4.1"/><circle cx="338.6" cy="197.6" r="4.1"/><circle cx="338.3" cy="193.0" r="4.1"/><circle cx="333.8" cy="191.9" r="4.1"/><circle cx="329.2" cy="191.8" r="4.1"/><circle cx="414.1" cy="207.9" r="4.1"/><circle cx="398.7" cy="256.9" r="4.1"/><circle cx="380.6" cy="258.1" r="4.1"/><circle cx="417.0" cy="152.3" r="4.1"/><circle cx="421.5" cy="151.6" r="4.1"/><circle cx="425.6" cy="149.5" r="4.1"/><circle cx="428.3" cy="153.1" r="4.1"/><circle cx="395.9" cy="157.2" r="4.1"/><circle cx="393.1" cy="153.5" r="4.1"/><circle cx="390.4" cy="149.8" r="4.1"/><circle cx="386.3" cy="147.7" r="4.1"/><circle cx="383.8" cy="143.9" r="4.1"/><circle cx="417.1" cy="143.3" r="4.1"/><circle cx="412.6" cy="142.5" r="4.1"/><circle cx="409.3" cy="139.3" r="4.1"/><circle cx="404.7" cy="138.9" r="4.1"/><circle cx="386.6" cy="278.0" r="4.1"/><circle cx="385.6" cy="282.5" r="4.1"/><circle cx="382.1" cy="285.4" r="4.1"/><circle cx="429.9" cy="217.0" r="4.1"/><circle cx="426.3" cy="249.8" r="4.1"/><circle cx="421.8" cy="248.7" r="4.1"/><circle cx="417.3" cy="247.9" r="4.1"/><circle cx="413.7" cy="250.8" r="4.1"/><circle cx="401.0" cy="126.2" r="4.1"/><circle cx="399.5" cy="121.9" r="4.1"/><circle cx="404.1" cy="122.1" r="4.1"/><circle cx="435.0" cy="248.9" r="4.1"/><circle cx="430.5" cy="247.9" r="4.1"/><circle cx="331.2" cy="209.4" r="4.1"/><circle cx="335.7" cy="210.5" r="4.1"/><circle cx="361.4" cy="172.0" r="4.1"/><circle cx="357.0" cy="171.0" r="4.1"/><circle cx="352.7" cy="169.2" r="4.1"/><circle cx="352.1" cy="164.6" r="4.1"/><circle cx="374.2" cy="202.7" r="4.1"/><circle cx="377.9" cy="205.3" r="4.1"/><circle cx="383.5" cy="165.9" r="4.1"/><circle cx="434.4" cy="224.1" r="4.1"/><circle cx="431.9" cy="220.2" r="4.1"/><circle cx="434.6" cy="216.5" r="4.1"/><circle cx="435.2" cy="212.0" r="4.1"/><circle cx="435.9" cy="207.4" r="4.1"/><circle cx="247.5" cy="257.1" r="4.1"/><circle cx="252.0" cy="256.1" r="4.1"/><circle cx="255.6" cy="253.3" r="4.1"/><circle cx="256.0" cy="248.7" r="4.1"/><circle cx="258.6" cy="244.9" r="4.1"/><circle cx="327.4" cy="227.4" r="4.1"/><circle cx="433.6" cy="257.8" r="4.1"/><circle cx="381.2" cy="149.0" r="4.1"/><circle cx="385.1" cy="151.5" r="4.1"/><circle cx="388.8" cy="154.2" r="4.1"/><circle cx="309.6" cy="251.9" r="4.1"/><circle cx="307.4" cy="247.8" r="4.1"/><circle cx="303.3" cy="245.8" r="4.1"/><circle cx="411.0" cy="211.3" r="4.1"/><circle cx="411.9" cy="215.8" r="4.1"/><circle cx="422.9" cy="153.9" r="4.1"/><circle cx="423.3" cy="158.5" r="4.1"/><circle cx="422.4" cy="163.0" r="4.1"/><circle cx="369.1" cy="185.6" r="4.1"/><circle cx="365.6" cy="182.6" r="4.1"/><circle cx="363.1" cy="178.7" r="4.1"/><circle cx="359.0" cy="176.5" r="4.1"/><circle cx="356.6" cy="180.4" r="4.1"/><circle cx="362.2" cy="172.7" r="4.1"/><circle cx="361.0" cy="177.2" r="4.1"/><circle cx="363.7" cy="180.9" r="4.1"/><circle cx="367.9" cy="182.7" r="4.1"/><circle cx="372.0" cy="185.0" r="4.1"/><circle cx="405.0" cy="153.3" r="4.1"/><circle cx="409.6" cy="153.0" r="4.1"/><circle cx="414.1" cy="151.9" r="4.1"/><circle cx="416.8" cy="155.7" r="4.1"/><circle cx="421.1" cy="154.1" r="4.1"/><circle cx="416.3" cy="231.2" r="4.1"/><circle cx="417.8" cy="226.8" r="4.1"/><circle cx="417.5" cy="222.3" r="4.1"/><circle cx="411.8" cy="233.4" r="4.1"/><circle cx="411.2" cy="237.9" r="4.1"/><circle cx="410.2" cy="242.4" r="4.1"/><circle cx="394.7" cy="183.5" r="4.1"/><circle cx="390.6" cy="185.6" r="4.1"/><circle cx="392.7" cy="189.7" r="4.1"/><circle cx="394.9" cy="193.8" r="4.1"/><circle cx="397.7" cy="197.4" r="4.1"/><circle cx="326.9" cy="195.8" r="4.1"/><circle cx="326.4" cy="191.2" r="4.1"/><circle cx="326.2" cy="186.6" r="4.1"/><circle cx="419.8" cy="220.5" r="4.1"/><circle cx="421.1" cy="224.9" r="4.1"/><circle cx="419.9" cy="229.4" r="4.1"/><circle cx="418.7" cy="233.8" r="4.1"/><circle cx="344.5" cy="260.3" r="4.1"/><circle cx="346.8" cy="256.3" r="4.1"/><circle cx="342.6" cy="254.5" r="4.1"/><circle cx="339.0" cy="257.4" r="4.1"/><circle cx="270.0" cy="263.6" r="4.1"/><circle cx="274.1" cy="261.5" r="4.1"/><circle cx="410.9" cy="242.5" r="4.1"/><circle cx="412.0" cy="238.0" r="4.1"/><circle cx="410.8" cy="233.5" r="4.1"/><circle cx="346.7" cy="185.5" r="4.1"/><circle cx="351.0" cy="184.0" r="4.1"/><circle cx="367.5" cy="241.0" r="4.1"/><circle cx="382.7" cy="250.5" r="4.1"/><circle cx="382.4" cy="255.1" r="4.1"/><circle cx="383.1" cy="259.6" r="4.1"/><circle cx="386.1" cy="263.1" r="4.1"/><circle cx="378.4" cy="242.4" r="4.1"/><circle cx="375.0" cy="239.2" r="4.1"/><circle cx="370.8" cy="237.5" r="4.1"/><circle cx="423.4" cy="145.3" r="4.1"/><circle cx="426.6" cy="148.6" r="4.1"/><circle cx="271.3" cy="235.4" r="4.1"/><circle cx="267.2" cy="237.6" r="4.1"/><circle cx="398.7" cy="195.5" r="4.1"/><circle cx="425.8" cy="195.8" r="4.1"/><circle cx="421.2" cy="196.3" r="4.1"/><circle cx="417.3" cy="198.7" r="4.1"/><circle cx="369.6" cy="190.1" r="4.1"/><circle cx="367.9" cy="185.8" r="4.1"/><circle cx="363.4" cy="185.0" r="4.1"/><circle cx="360.0" cy="188.1" r="4.1"/><circle cx="384.0" cy="234.5" r="4.1"/><circle cx="388.6" cy="234.3" r="4.1"/><circle cx="391.1" cy="230.4" r="4.1"/><circle cx="391.1" cy="225.8" r="4.1"/><circle cx="388.2" cy="222.2" r="4.1"/><circle cx="409.7" cy="245.3" r="4.1"/><circle cx="410.9" cy="240.9" r="4.1"/><circle cx="414.3" cy="237.8" r="4.1"/><circle cx="268.2" cy="215.5" r="4.1"/><circle cx="271.3" cy="212.1" r="4.1"/><circle cx="299.1" cy="189.3" r="4.1"/><circle cx="426.9" cy="141.5" r="4.1"/><circle cx="431.1" cy="130.7" r="4.1"/><circle cx="426.9" cy="128.9" r="4.1"/><circle cx="298.7" cy="207.6" r="4.1"/><circle cx="281.0" cy="276.1" r="4.1"/><circle cx="328.9" cy="287.8" r="4.1"/><circle cx="263.2" cy="235.3" r="4.1"/><circle cx="240.2" cy="243.9" r="4.1"/><circle cx="429.6" cy="118.6" r="4.1"/><circle cx="229.5" cy="262.7" r="4.1"/><circle cx="230.3" cy="258.1" r="4.1"/><circle cx="308.9" cy="276.6" r="4.1"/><circle cx="370.1" cy="307.8" r="4.1"/><circle cx="260.8" cy="274.6" r="4.1"/><circle cx="409.2" cy="116.4" r="4.1"/><circle cx="404.9" cy="114.7" r="4.1"/><circle cx="431.8" cy="115.3" r="4.1"/><circle cx="291.0" cy="271.1" r="4.1"/><circle cx="288.3" cy="267.3" r="4.1"/><circle cx="402.4" cy="287.9" r="4.1"/><circle cx="300.4" cy="195.8" r="4.1"/><circle cx="300.1" cy="191.2" r="4.1"/><circle cx="417.9" cy="277.6" r="4.1"/><circle cx="272.5" cy="270.0" r="4.1"/><circle cx="459.9" cy="232.2" r="4.1"/><circle cx="464.3" cy="233.7" r="4.1"/><circle cx="429.0" cy="275.1" r="4.1"/><circle cx="248.1" cy="242.9" r="4.1"/><circle cx="372.2" cy="146.2" r="4.1"/><circle cx="237.3" cy="234.9" r="4.1"/><circle cx="321.4" cy="183.4" r="4.1"/><circle cx="319.3" cy="187.5" r="4.1"/><circle cx="344.0" cy="163.0" r="4.1"/><circle cx="450.4" cy="265.6" r="4.1"/><circle cx="403.5" cy="284.2" r="4.1"/><circle cx="223.3" cy="256.7" r="4.1"/><circle cx="428.5" cy="127.9" r="4.1"/><circle cx="350.0" cy="161.4" r="4.1"/><circle cx="350.3" cy="166.0" r="4.1"/><circle cx="314.5" cy="189.4" r="4.1"/><circle cx="318.7" cy="187.4" r="4.1"/><circle cx="381.1" cy="308.8" r="4.1"/><circle cx="251.8" cy="234.1" r="4.1"/><circle cx="255.3" cy="231.1" r="4.1"/><circle cx="352.9" cy="301.2" r="4.1"/><circle cx="357.5" cy="301.3" r="4.1"/><circle cx="451.1" cy="167.0" r="4.1"/><circle cx="269.5" cy="222.9" r="4.1"/><circle cx="274.1" cy="222.7" r="4.1"/><circle cx="297.0" cy="275.1" r="4.1"/><circle cx="440.7" cy="256.8" r="4.1"/><circle cx="440.6" cy="261.4" r="4.1"/><circle cx="303.9" cy="278.6" r="4.1"/><circle cx="304.5" cy="274.0" r="4.1"/><circle cx="434.0" cy="264.7" r="4.1"/><circle cx="431.9" cy="268.8" r="4.1"/><circle cx="369.0" cy="300.0" r="4.1"/><circle cx="370.0" cy="295.5" r="4.1"/><circle cx="431.5" cy="144.9" r="4.1"/><circle cx="436.0" cy="143.9" r="4.1"/><circle cx="271.5" cy="211.8" r="4.1"/><circle cx="258.2" cy="216.6" r="4.1"/><circle cx="371.2" cy="318.4" r="4.1"/><circle cx="436.4" cy="126.4" r="4.1"/><circle cx="301.0" cy="186.9" r="4.1"/><circle cx="428.7" cy="272.0" r="4.1"/><circle cx="383.1" cy="296.1" r="4.1"/><circle cx="383.1" cy="138.8" r="4.1"/><circle cx="286.5" cy="197.3" r="4.1"/><circle cx="472.3" cy="254.1" r="4.1"/><circle cx="475.9" cy="257.0" r="4.1"/><circle cx="414.3" cy="116.8" r="4.1"/><circle cx="417.5" cy="113.4" r="4.1"/><circle cx="277.7" cy="218.6" r="4.1"/><circle cx="278.0" cy="223.2" r="4.1"/><circle cx="263.0" cy="277.1" r="4.1"/><circle cx="313.1" cy="191.9" r="4.1"/><circle cx="311.0" cy="196.0" r="4.1"/><circle cx="303.8" cy="179.8" r="4.1"/><circle cx="307.3" cy="176.8" r="4.1"/><circle cx="264.2" cy="278.0" r="4.1"/><circle cx="262.7" cy="273.6" r="4.1"/><circle cx="429.8" cy="263.7" r="4.1"/><circle cx="431.0" cy="268.2" r="4.1"/><circle cx="439.8" cy="148.2" r="4.1"/><circle cx="364.0" cy="314.6" r="4.1"/><circle cx="357.8" cy="155.0" r="4.1"/><circle cx="353.2" cy="154.6" r="4.1"/><circle cx="416.2" cy="123.4" r="4.1"/><circle cx="361.3" cy="320.3" r="4.1"/><circle cx="361.6" cy="324.9" r="4.1"/><circle cx="421.2" cy="110.2" r="4.1"/><circle cx="423.4" cy="114.2" r="4.1"/><circle cx="312.3" cy="181.6" r="4.1"/><circle cx="434.0" cy="125.2" r="4.1"/><circle cx="430.9" cy="128.6" r="4.1"/><circle cx="883.6" cy="211.4" r="4.1"/><circle cx="887.1" cy="214.4" r="4.1"/><circle cx="870.8" cy="216.5" r="4.1"/><circle cx="824.2" cy="132.5" r="4.1"/><circle cx="828.8" cy="132.7" r="4.1"/><circle cx="831.7" cy="136.3" r="4.1"/><circle cx="919.5" cy="180.3" r="4.1"/><circle cx="918.9" cy="184.9" r="4.1"/><circle cx="918.5" cy="189.5" r="4.1"/><circle cx="877.7" cy="221.6" r="4.1"/><circle cx="824.3" cy="185.0" r="4.1"/><circle cx="816.7" cy="176.3" r="4.1"/><circle cx="821.2" cy="175.2" r="4.1"/><circle cx="856.2" cy="126.4" r="4.1"/><circle cx="860.5" cy="127.9" r="4.1"/><circle cx="865.1" cy="127.7" r="4.1"/><circle cx="869.3" cy="125.7" r="4.1"/><circle cx="873.8" cy="126.2" r="4.1"/><circle cx="856.4" cy="162.9" r="4.1"/><circle cx="860.1" cy="165.7" r="4.1"/><circle cx="863.6" cy="168.7" r="4.1"/><circle cx="898.9" cy="134.5" r="4.1"/><circle cx="897.6" cy="138.9" r="4.1"/><circle cx="893.6" cy="141.3" r="4.1"/><circle cx="889.7" cy="143.8" r="4.1"/><circle cx="889.5" cy="148.4" r="4.1"/><circle cx="868.3" cy="177.9" r="4.1"/><circle cx="871.6" cy="181.1" r="4.1"/><circle cx="876.1" cy="182.1" r="4.1"/><circle cx="857.7" cy="147.6" r="4.1"/><circle cx="858.7" cy="143.1" r="4.1"/><circle cx="865.7" cy="103.8" r="4.1"/><circle cx="861.2" cy="104.7" r="4.1"/><circle cx="858.2" cy="101.3" r="4.1"/><circle cx="878.0" cy="224.7" r="4.1"/><circle cx="880.9" cy="221.1" r="4.1"/><circle cx="885.0" cy="219.1" r="4.1"/><circle cx="865.6" cy="152.4" r="4.1"/><circle cx="862.9" cy="148.7" r="4.1"/><circle cx="905.0" cy="131.6" r="4.1"/><circle cx="900.5" cy="130.6" r="4.1"/><circle cx="896.9" cy="127.6" r="4.1"/><circle cx="930.6" cy="179.8" r="4.1"/><circle cx="926.5" cy="181.9" r="4.1"/><circle cx="922.6" cy="184.3" r="4.1"/><circle cx="875.6" cy="225.4" r="4.1"/><circle cx="878.4" cy="229.0" r="4.1"/><circle cx="882.7" cy="227.2" r="4.1"/><circle cx="893.3" cy="129.4" r="4.1"/><circle cx="890.4" cy="220.3" r="4.1"/><circle cx="888.9" cy="215.9" r="4.1"/><circle cx="886.9" cy="199.3" r="4.1"/><circle cx="891.3" cy="200.6" r="4.1"/><circle cx="892.6" cy="196.2" r="4.1"/><circle cx="841.5" cy="142.4" r="4.1"/><circle cx="837.7" cy="139.9" r="4.1"/><circle cx="836.2" cy="135.5" r="4.1"/><circle cx="834.1" cy="131.5" r="4.1"/><circle cx="866.8" cy="101.6" r="4.1"/><circle cx="865.0" cy="97.3" r="4.1"/><circle cx="863.2" cy="101.6" r="4.1"/><circle cx="854.6" cy="189.8" r="4.1"/><circle cx="850.0" cy="190.1" r="4.1"/><circle cx="847.6" cy="194.0" r="4.1"/><circle cx="848.9" cy="198.4" r="4.1"/><circle cx="916.8" cy="156.4" r="4.1"/><circle cx="912.8" cy="153.9" r="4.1"/><circle cx="909.8" cy="150.5" r="4.1"/><circle cx="905.8" cy="148.2" r="4.1"/><circle cx="905.8" cy="143.6" r="4.1"/><circle cx="843.8" cy="184.7" r="4.1"/><circle cx="846.0" cy="180.7" r="4.1"/><circle cx="842.5" cy="177.7" r="4.1"/><circle cx="838.0" cy="176.8" r="4.1"/><circle cx="937.2" cy="160.7" r="4.1"/><circle cx="939.2" cy="164.8" r="4.1"/><circle cx="893.6" cy="153.1" r="4.1"/><circle cx="882.9" cy="124.7" r="4.1"/><circle cx="886.5" cy="121.8" r="4.1"/><circle cx="889.1" cy="118.0" r="4.1"/><circle cx="912.3" cy="130.2" r="4.1"/><circle cx="916.8" cy="137.5" r="4.1"/><circle cx="929.2" cy="192.8" r="4.1"/><circle cx="893.4" cy="127.5" r="4.1"/><circle cx="894.8" cy="131.9" r="4.1"/><circle cx="896.8" cy="136.0" r="4.1"/><circle cx="859.3" cy="142.3" r="4.1"/><circle cx="857.8" cy="146.6" r="4.1"/><circle cx="856.2" cy="142.3" r="4.1"/><circle cx="850.3" cy="143.1" r="4.1"/><circle cx="847.6" cy="139.4" r="4.1"/><circle cx="889.7" cy="160.7" r="4.1"/><circle cx="889.5" cy="156.1" r="4.1"/><circle cx="869.9" cy="158.0" r="4.1"/><circle cx="874.4" cy="157.3" r="4.1"/><circle cx="877.8" cy="154.2" r="4.1"/><circle cx="831.7" cy="138.9" r="4.1"/><circle cx="827.5" cy="137.0" r="4.1"/><circle cx="823.9" cy="134.1" r="4.1"/><circle cx="878.1" cy="128.6" r="4.1"/><circle cx="936.3" cy="171.2" r="4.1"/><circle cx="907.3" cy="167.6" r="4.1"/><circle cx="906.3" cy="172.1" r="4.1"/><circle cx="910.9" cy="172.5" r="4.1"/><circle cx="848.4" cy="142.2" r="4.1"/><circle cx="849.8" cy="146.6" r="4.1"/><circle cx="854.3" cy="147.9" r="4.1"/><circle cx="858.9" cy="147.9" r="4.1"/><circle cx="864.9" cy="141.1" r="4.1"/><circle cx="868.9" cy="143.4" r="4.1"/><circle cx="866.2" cy="115.7" r="4.1"/><circle cx="844.9" cy="167.7" r="4.1"/><circle cx="849.2" cy="165.9" r="4.1"/><circle cx="844.8" cy="164.5" r="4.1"/><circle cx="841.8" cy="161.0" r="4.1"/><circle cx="837.3" cy="161.8" r="4.1"/><circle cx="865.7" cy="176.0" r="4.1"/><circle cx="866.5" cy="171.5" r="4.1"/><circle cx="864.3" cy="167.4" r="4.1"/><circle cx="861.3" cy="163.9" r="4.1"/><circle cx="878.8" cy="180.9" r="4.1"/><circle cx="883.4" cy="180.7" r="4.1"/><circle cx="923.7" cy="146.5" r="4.1"/><circle cx="926.7" cy="143.0" r="4.1"/><circle cx="914.7" cy="191.3" r="4.1"/><circle cx="918.5" cy="188.7" r="4.1"/><circle cx="921.2" cy="192.4" r="4.1"/><circle cx="888.7" cy="177.8" r="4.1"/><circle cx="930.9" cy="171.7" r="4.1"/><circle cx="926.9" cy="169.4" r="4.1"/><circle cx="925.2" cy="165.1" r="4.1"/><circle cx="922.6" cy="161.3" r="4.1"/><circle cx="918.8" cy="158.8" r="4.1"/><circle cx="855.2" cy="147.5" r="4.1"/><circle cx="856.6" cy="143.0" r="4.1"/><circle cx="859.2" cy="139.3" r="4.1"/><circle cx="862.9" cy="136.6" r="4.1"/><circle cx="859.6" cy="211.5" r="4.1"/><circle cx="855.6" cy="209.2" r="4.1"/><circle cx="851.0" cy="208.5" r="4.1"/><circle cx="829.0" cy="187.0" r="4.1"/><circle cx="832.0" cy="183.6" r="4.1"/><circle cx="900.0" cy="148.2" r="4.1"/><circle cx="895.7" cy="149.7" r="4.1"/><circle cx="915.2" cy="131.7" r="4.1"/><circle cx="849.3" cy="142.0" r="4.1"/><circle cx="845.7" cy="144.8" r="4.1"/><circle cx="841.1" cy="145.1" r="4.1"/><circle cx="836.7" cy="143.7" r="4.1"/><circle cx="867.9" cy="209.9" r="4.1"/><circle cx="869.2" cy="205.5" r="4.1"/><circle cx="867.7" cy="201.1" r="4.1"/><circle cx="868.9" cy="183.1" r="4.1"/><circle cx="867.9" cy="187.6" r="4.1"/><circle cx="861.5" cy="191.5" r="4.1"/><circle cx="825.0" cy="159.6" r="4.1"/><circle cx="828.4" cy="162.7" r="4.1"/><circle cx="831.6" cy="166.0" r="4.1"/><circle cx="834.8" cy="169.3" r="4.1"/><circle cx="889.1" cy="162.1" r="4.1"/><circle cx="886.7" cy="166.0" r="4.1"/><circle cx="882.8" cy="168.4" r="4.1"/><circle cx="878.2" cy="167.9" r="4.1"/><circle cx="876.4" cy="169.2" r="4.1"/><circle cx="878.3" cy="165.0" r="4.1"/><circle cx="884.2" cy="206.5" r="4.1"/><circle cx="877.1" cy="218.0" r="4.1"/><circle cx="874.5" cy="221.7" r="4.1"/><circle cx="869.9" cy="220.9" r="4.1"/><circle cx="866.1" cy="218.3" r="4.1"/><circle cx="867.2" cy="179.7" r="4.1"/><circle cx="856.8" cy="170.1" r="4.1"/><circle cx="861.4" cy="169.9" r="4.1"/><circle cx="865.3" cy="172.3" r="4.1"/><circle cx="869.7" cy="173.8" r="4.1"/><circle cx="872.6" cy="177.3" r="4.1"/><circle cx="878.9" cy="155.9" r="4.1"/><circle cx="883.0" cy="153.9" r="4.1"/><circle cx="887.1" cy="151.8" r="4.1"/><circle cx="869.5" cy="173.2" r="4.1"/><circle cx="865.1" cy="174.5" r="4.1"/><circle cx="861.7" cy="162.3" r="4.1"/><circle cx="859.6" cy="158.2" r="4.1"/><circle cx="863.4" cy="155.6" r="4.1"/><circle cx="865.5" cy="151.5" r="4.1"/><circle cx="869.8" cy="149.9" r="4.1"/><circle cx="842.5" cy="158.7" r="4.1"/><circle cx="847.0" cy="159.2" r="4.1"/><circle cx="871.8" cy="230.6" r="4.1"/><circle cx="889.5" cy="121.1" r="4.1"/><circle cx="894.1" cy="120.3" r="4.1"/><circle cx="881.8" cy="118.0" r="4.1"/><circle cx="878.8" cy="114.6" r="4.1"/><circle cx="919.2" cy="197.4" r="4.1"/><circle cx="914.7" cy="198.4" r="4.1"/><circle cx="910.1" cy="198.3" r="4.1"/><circle cx="905.5" cy="198.5" r="4.1"/><circle cx="919.5" cy="137.6" r="4.1"/><circle cx="918.3" cy="142.0" r="4.1"/><circle cx="922.1" cy="144.7" r="4.1"/><circle cx="926.1" cy="146.9" r="4.1"/><circle cx="930.6" cy="146.1" r="4.1"/><circle cx="898.2" cy="128.5" r="4.1"/><circle cx="901.2" cy="131.9" r="4.1"/><circle cx="905.8" cy="132.0" r="4.1"/><circle cx="842.9" cy="174.1" r="4.1"/><circle cx="845.8" cy="177.7" r="4.1"/><circle cx="847.0" cy="182.1" r="4.1"/><circle cx="849.9" cy="185.7" r="4.1"/><circle cx="819.9" cy="146.0" r="4.1"/><circle cx="824.3" cy="144.8" r="4.1"/><circle cx="880.8" cy="137.2" r="4.1"/><circle cx="876.6" cy="135.4" r="4.1"/><circle cx="873.1" cy="138.4" r="4.1"/><circle cx="869.2" cy="140.8" r="4.1"/><circle cx="852.9" cy="179.7" r="4.1"/><circle cx="854.9" cy="175.5" r="4.1"/><circle cx="933.1" cy="190.2" r="4.1"/><circle cx="937.5" cy="189.2" r="4.1"/><circle cx="916.1" cy="199.9" r="4.1"/><circle cx="911.9" cy="198.2" r="4.1"/><circle cx="908.5" cy="195.1" r="4.1"/><circle cx="906.2" cy="191.1" r="4.1"/><circle cx="903.3" cy="187.5" r="4.1"/><circle cx="820.0" cy="179.0" r="4.1"/><circle cx="906.8" cy="147.1" r="4.1"/><circle cx="924.2" cy="164.6" r="4.1"/><circle cx="828.3" cy="129.6" r="4.1"/><circle cx="832.2" cy="132.1" r="4.1"/><circle cx="836.3" cy="134.2" r="4.1"/><circle cx="881.9" cy="168.5" r="4.1"/><circle cx="878.5" cy="171.6" r="4.1"/><circle cx="905.8" cy="172.5" r="4.1"/><circle cx="876.1" cy="209.7" r="4.1"/><circle cx="873.1" cy="206.2" r="4.1"/><circle cx="802.7" cy="149.0" r="4.1"/><circle cx="832.6" cy="218.4" r="4.1"/><circle cx="909.4" cy="214.0" r="4.1"/><circle cx="898.8" cy="238.0" r="4.1"/><circle cx="891.4" cy="230.6" r="4.1"/><circle cx="888.7" cy="226.9" r="4.1"/><circle cx="865.7" cy="234.4" r="4.1"/><circle cx="866.7" cy="229.9" r="4.1"/><circle cx="942.7" cy="190.6" r="4.1"/><circle cx="928.1" cy="209.5" r="4.1"/><circle cx="932.1" cy="211.8" r="4.1"/><circle cx="903.5" cy="236.3" r="4.1"/><circle cx="900.4" cy="239.7" r="4.1"/><circle cx="936.9" cy="198.4" r="4.1"/><circle cx="944.8" cy="161.3" r="4.1"/><circle cx="956.3" cy="178.7" r="4.1"/><circle cx="904.3" cy="218.9" r="4.1"/><circle cx="906.2" cy="214.7" r="4.1"/><circle cx="843.1" cy="214.1" r="4.1"/><circle cx="815.1" cy="192.8" r="4.1"/><circle cx="945.1" cy="173.1" r="4.1"/><circle cx="940.6" cy="174.1" r="4.1"/><circle cx="858.8" cy="231.9" r="4.1"/><circle cx="910.4" cy="225.6" r="4.1"/><circle cx="906.9" cy="222.6" r="4.1"/><circle cx="848.6" cy="241.4" r="4.1"/><circle cx="813.2" cy="149.3" r="4.1"/><circle cx="817.3" cy="151.4" r="4.1"/><circle cx="813.0" cy="128.9" r="4.1"/><circle cx="932.9" cy="203.5" r="4.1"/><circle cx="856.9" cy="246.8" r="4.1"/><circle cx="852.3" cy="246.9" r="4.1"/><circle cx="889.0" cy="245.5" r="4.1"/><circle cx="814.1" cy="138.1" r="4.1"/><circle cx="818.7" cy="138.5" r="4.1"/><circle cx="957.9" cy="182.9" r="4.1"/><circle cx="828.8" cy="120.3" r="4.1"/><circle cx="829.4" cy="115.7" r="4.1"/><circle cx="899.6" cy="216.8" r="4.1"/><circle cx="897.1" cy="220.7" r="4.1"/><circle cx="562.3" cy="570.1" r="4.1"/><circle cx="542.8" cy="598.8" r="4.1"/><circle cx="543.2" cy="594.2" r="4.1"/><circle cx="540.4" cy="590.6" r="4.1"/><circle cx="536.4" cy="588.3" r="4.1"/><circle cx="613.5" cy="527.3" r="4.1"/><circle cx="560.8" cy="535.6" r="4.1"/><circle cx="634.6" cy="527.9" r="4.1"/><circle cx="633.2" cy="532.3" r="4.1"/><circle cx="632.0" cy="536.7" r="4.1"/><circle cx="638.4" cy="515.8" r="4.1"/><circle cx="645.3" cy="558.5" r="4.1"/><circle cx="641.5" cy="561.2" r="4.1"/><circle cx="548.9" cy="519.7" r="4.1"/><circle cx="546.1" cy="587.3" r="4.1"/><circle cx="544.4" cy="591.5" r="4.1"/><circle cx="542.5" cy="595.7" r="4.1"/><circle cx="670.4" cy="557.6" r="4.1"/><circle cx="663.7" cy="561.9" r="4.1"/><circle cx="702.4" cy="549.4" r="4.1"/><circle cx="705.7" cy="546.2" r="4.1"/><circle cx="489.2" cy="575.6" r="4.1"/><circle cx="654.7" cy="551.8" r="4.1"/><circle cx="672.5" cy="540.6" r="4.1"/><circle cx="669.2" cy="543.8" r="4.1"/><circle cx="665.5" cy="546.6" r="4.1"/><circle cx="661.5" cy="548.7" r="4.1"/><circle cx="684.1" cy="544.6" r="4.1"/><circle cx="684.6" cy="549.1" r="4.1"/><circle cx="648.8" cy="561.4" r="4.1"/><circle cx="650.4" cy="557.1" r="4.1"/><circle cx="655.0" cy="556.3" r="4.1"/><circle cx="655.8" cy="560.8" r="4.1"/><circle cx="637.8" cy="552.4" r="4.1"/><circle cx="642.4" cy="552.1" r="4.1"/><circle cx="555.6" cy="573.0" r="4.1"/><circle cx="560.1" cy="572.0" r="4.1"/><circle cx="644.7" cy="530.3" r="4.1"/><circle cx="576.4" cy="546.3" r="4.1"/><circle cx="577.3" cy="550.8" r="4.1"/><circle cx="598.4" cy="562.1" r="4.1"/><circle cx="647.6" cy="519.5" r="4.1"/><circle cx="501.9" cy="556.2" r="4.1"/><circle cx="500.0" cy="560.4" r="4.1"/><circle cx="497.9" cy="564.4" r="4.1"/><circle cx="495.9" cy="568.6" r="4.1"/><circle cx="663.4" cy="555.3" r="4.1"/><circle cx="612.8" cy="551.2" r="4.1"/><circle cx="616.7" cy="548.7" r="4.1"/><circle cx="661.0" cy="551.3" r="4.1"/><circle cx="665.4" cy="549.9" r="4.1"/><circle cx="612.2" cy="518.0" r="4.1"/><circle cx="537.8" cy="536.8" r="4.1"/><circle cx="533.4" cy="535.5" r="4.1"/><circle cx="529.0" cy="534.2" r="4.1"/><circle cx="631.8" cy="564.0" r="4.1"/><circle cx="633.4" cy="559.7" r="4.1"/><circle cx="634.2" cy="555.1" r="4.1"/><circle cx="632.8" cy="550.8" r="4.1"/><circle cx="476.4" cy="575.7" r="4.1"/><circle cx="476.4" cy="571.1" r="4.1"/><circle cx="677.3" cy="526.3" r="4.1"/><circle cx="681.6" cy="524.7" r="4.1"/><circle cx="686.2" cy="524.9" r="4.1"/><circle cx="690.4" cy="526.8" r="4.1"/><circle cx="578.1" cy="566.1" r="4.1"/><circle cx="577.7" cy="561.6" r="4.1"/><circle cx="580.0" cy="557.6" r="4.1"/><circle cx="518.6" cy="589.8" r="4.1"/><circle cx="522.8" cy="588.0" r="4.1"/><circle cx="525.4" cy="591.7" r="4.1"/><circle cx="520.5" cy="541.0" r="4.1"/><circle cx="520.0" cy="545.5" r="4.1"/><circle cx="538.9" cy="566.5" r="4.1"/><circle cx="592.2" cy="568.6" r="4.1"/><circle cx="587.6" cy="567.9" r="4.1"/><circle cx="585.2" cy="564.0" r="4.1"/><circle cx="581.5" cy="561.4" r="4.1"/><circle cx="620.8" cy="529.8" r="4.1"/><circle cx="637.1" cy="548.9" r="4.1"/><circle cx="641.7" cy="548.5" r="4.1"/><circle cx="531.7" cy="545.3" r="4.1"/><circle cx="619.2" cy="565.7" r="4.1"/><circle cx="620.5" cy="561.3" r="4.1"/><circle cx="632.4" cy="537.5" r="4.1"/><circle cx="593.3" cy="516.8" r="4.1"/><circle cx="587.1" cy="589.0" r="4.1"/><circle cx="586.8" cy="584.4" r="4.1"/><circle cx="587.2" cy="579.9" r="4.1"/><circle cx="589.1" cy="575.7" r="4.1"/><circle cx="631.1" cy="550.2" r="4.1"/><circle cx="673.2" cy="551.6" r="4.1"/><circle cx="668.9" cy="549.9" r="4.1"/><circle cx="517.5" cy="587.0" r="4.1"/><circle cx="518.9" cy="582.6" r="4.1"/><circle cx="520.8" cy="578.4" r="4.1"/><circle cx="500.8" cy="569.4" r="4.1"/><circle cx="503.3" cy="565.6" r="4.1"/><circle cx="506.5" cy="562.3" r="4.1"/><circle cx="555.9" cy="568.8" r="4.1"/><circle cx="553.7" cy="564.8" r="4.1"/><circle cx="527.8" cy="593.8" r="4.1"/><circle cx="529.3" cy="589.4" r="4.1"/><circle cx="533.7" cy="588.2" r="4.1"/><circle cx="523.7" cy="543.1" r="4.1"/><circle cx="502.7" cy="578.5" r="4.1"/><circle cx="515.7" cy="544.7" r="4.1"/><circle cx="511.3" cy="546.2" r="4.1"/><circle cx="507.0" cy="547.7" r="4.1"/><circle cx="502.5" cy="548.8" r="4.1"/><circle cx="552.6" cy="535.5" r="4.1"/><circle cx="548.1" cy="534.2" r="4.1"/><circle cx="545.5" cy="530.5" r="4.1"/><circle cx="545.3" cy="525.9" r="4.1"/><circle cx="490.9" cy="553.3" r="4.1"/><circle cx="494.3" cy="556.4" r="4.1"/><circle cx="508.8" cy="534.1" r="4.1"/><circle cx="504.3" cy="535.1" r="4.1"/><circle cx="644.5" cy="560.7" r="4.1"/><circle cx="646.1" cy="556.4" r="4.1"/><circle cx="650.5" cy="557.7" r="4.1"/><circle cx="650.9" cy="562.2" r="4.1"/><circle cx="503.8" cy="587.8" r="4.1"/><circle cx="579.0" cy="552.3" r="4.1"/><circle cx="583.2" cy="554.3" r="4.1"/><circle cx="539.9" cy="528.6" r="4.1"/><circle cx="542.5" cy="524.8" r="4.1"/><circle cx="546.6" cy="522.7" r="4.1"/><circle cx="586.9" cy="566.6" r="4.1"/><circle cx="469.9" cy="568.4" r="4.1"/><circle cx="469.4" cy="563.9" r="4.1"/><circle cx="552.2" cy="591.3" r="4.1"/><circle cx="550.2" cy="595.4" r="4.1"/><circle cx="639.5" cy="550.6" r="4.1"/><circle cx="640.5" cy="546.1" r="4.1"/><circle cx="642.2" cy="541.8" r="4.1"/><circle cx="560.6" cy="571.2" r="4.1"/><circle cx="561.7" cy="575.6" r="4.1"/><circle cx="562.4" cy="580.2" r="4.1"/><circle cx="559.3" cy="583.5" r="4.1"/><circle cx="614.3" cy="529.6" r="4.1"/><circle cx="616.1" cy="525.4" r="4.1"/><circle cx="505.5" cy="547.3" r="4.1"/><circle cx="509.5" cy="545.0" r="4.1"/><circle cx="513.6" cy="543.0" r="4.1"/><circle cx="667.2" cy="524.1" r="4.1"/><circle cx="664.6" cy="520.3" r="4.1"/><circle cx="662.6" cy="516.2" r="4.1"/><circle cx="599.8" cy="534.8" r="4.1"/><circle cx="595.2" cy="535.2" r="4.1"/><circle cx="540.8" cy="577.8" r="4.1"/><circle cx="540.7" cy="582.4" r="4.1"/><circle cx="537.0" cy="585.2" r="4.1"/><circle cx="536.4" cy="589.7" r="4.1"/><circle cx="527.9" cy="594.8" r="4.1"/><circle cx="479.3" cy="577.9" r="4.1"/><circle cx="622.2" cy="556.2" r="4.1"/><circle cx="623.9" cy="560.5" r="4.1"/><circle cx="628.7" cy="543.4" r="4.1"/><circle cx="624.1" cy="542.7" r="4.1"/><circle cx="524.1" cy="544.5" r="4.1"/><circle cx="528.2" cy="542.4" r="4.1"/><circle cx="530.8" cy="538.6" r="4.1"/><circle cx="696.5" cy="533.3" r="4.1"/><circle cx="620.8" cy="526.4" r="4.1"/><circle cx="623.6" cy="522.8" r="4.1"/><circle cx="560.3" cy="522.2" r="4.1"/><circle cx="560.0" cy="517.6" r="4.1"/><circle cx="514.7" cy="534.1" r="4.1"/><circle cx="517.0" cy="538.1" r="4.1"/><circle cx="620.5" cy="552.4" r="4.1"/><circle cx="617.8" cy="556.1" r="4.1"/><circle cx="616.6" cy="560.5" r="4.1"/><circle cx="505.0" cy="553.5" r="4.1"/><circle cx="508.5" cy="550.5" r="4.1"/><circle cx="616.3" cy="536.4" r="4.1"/><circle cx="612.4" cy="534.0" r="4.1"/><circle cx="698.9" cy="527.8" r="4.1"/><circle cx="695.5" cy="524.7" r="4.1"/><circle cx="691.4" cy="522.7" r="4.1"/><circle cx="477.9" cy="551.1" r="4.1"/><circle cx="593.1" cy="575.4" r="4.1"/><circle cx="510.6" cy="552.4" r="4.1"/><circle cx="515.2" cy="552.9" r="4.1"/><circle cx="518.2" cy="556.4" r="4.1"/><circle cx="615.0" cy="572.8" r="4.1"/><circle cx="508.2" cy="593.6" r="4.1"/><circle cx="565.7" cy="536.7" r="4.1"/><circle cx="566.3" cy="532.2" r="4.1"/><circle cx="568.8" cy="528.3" r="4.1"/><circle cx="485.1" cy="562.8" r="4.1"/><circle cx="484.6" cy="567.4" r="4.1"/><circle cx="489.0" cy="568.9" r="4.1"/><circle cx="493.2" cy="570.6" r="4.1"/><circle cx="624.7" cy="560.9" r="4.1"/><circle cx="625.6" cy="565.5" r="4.1"/><circle cx="668.0" cy="551.3" r="4.1"/><circle cx="665.0" cy="547.8" r="4.1"/><circle cx="661.7" cy="544.6" r="4.1"/><circle cx="660.5" cy="540.1" r="4.1"/><circle cx="513.9" cy="574.7" r="4.1"/><circle cx="509.3" cy="574.0" r="4.1"/><circle cx="538.3" cy="569.7" r="4.1"/><circle cx="534.7" cy="572.6" r="4.1"/><circle cx="545.1" cy="573.4" r="4.1"/><circle cx="540.8" cy="571.8" r="4.1"/><circle cx="538.1" cy="568.0" r="4.1"/><circle cx="539.4" cy="536.6" r="4.1"/><circle cx="534.8" cy="535.7" r="4.1"/><circle cx="677.1" cy="551.7" r="4.1"/><circle cx="578.8" cy="538.1" r="4.1"/><circle cx="587.9" cy="550.6" r="4.1"/><circle cx="588.1" cy="546.0" r="4.1"/><circle cx="588.7" cy="541.4" r="4.1"/><circle cx="586.1" cy="537.7" r="4.1"/><circle cx="487.7" cy="551.1" r="4.1"/><circle cx="487.2" cy="546.6" r="4.1"/><circle cx="491.0" cy="543.9" r="4.1"/><circle cx="477.5" cy="571.6" r="4.1"/><circle cx="668.4" cy="565.2" r="4.1"/><circle cx="579.5" cy="606.9" r="4.1"/><circle cx="576.0" cy="603.9" r="4.1"/><circle cx="584.2" cy="596.4" r="4.1"/><circle cx="627.5" cy="500.7" r="4.1"/><circle cx="605.7" cy="495.2" r="4.1"/><circle cx="625.7" cy="499.7" r="4.1"/><circle cx="623.8" cy="495.4" r="4.1"/><circle cx="586.0" cy="500.2" r="4.1"/><circle cx="587.7" cy="495.9" r="4.1"/><circle cx="686.0" cy="562.1" r="4.1"/><circle cx="681.6" cy="563.4" r="4.1"/><circle cx="682.6" cy="561.6" r="4.1"/><circle cx="551.4" cy="607.1" r="4.1"/><circle cx="649.5" cy="506.0" r="4.1"/><circle cx="514.3" cy="598.2" r="4.1"/><circle cx="518.1" cy="600.7" r="4.1"/><circle cx="477.8" cy="543.2" r="4.1"/><circle cx="482.4" cy="542.8" r="4.1"/><circle cx="587.8" cy="600.4" r="4.1"/><circle cx="601.9" cy="511.0" r="4.1"/><circle cx="578.4" cy="504.9" r="4.1"/><circle cx="582.5" cy="506.8" r="4.1"/><circle cx="517.7" cy="514.6" r="4.1"/><circle cx="571.8" cy="504.2" r="4.1"/><circle cx="574.9" cy="500.8" r="4.1"/><circle cx="521.0" cy="517.5" r="4.1"/><circle cx="520.4" cy="522.0" r="4.1"/><circle cx="572.5" cy="510.8" r="4.1"/><circle cx="587.7" cy="515.7" r="4.1"/><circle cx="583.1" cy="515.7" r="4.1"/><circle cx="556.5" cy="502.2" r="4.1"/><circle cx="561.1" cy="502.2" r="4.1"/><circle cx="598.8" cy="498.9" r="4.1"/><circle cx="596.7" cy="494.8" r="4.1"/><circle cx="495.3" cy="537.2" r="4.1"/><circle cx="493.7" cy="532.9" r="4.1"/><circle cx="545.4" cy="605.5" r="4.1"/><circle cx="540.8" cy="605.8" r="4.1"/><circle cx="463.1" cy="558.8" r="4.1"/><circle cx="461.6" cy="554.4" r="4.1"/><circle cx="614.6" cy="586.7" r="4.1"/><circle cx="647.3" cy="510.6" r="4.1"/><circle cx="557.1" cy="505.0" r="4.1"/><circle cx="640.0" cy="568.4" r="4.1"/><circle cx="550.0" cy="605.1" r="4.1"/><circle cx="709.6" cy="545.3" r="4.1"/><circle cx="709.5" cy="549.9" r="4.1"/><circle cx="464.3" cy="573.4" r="4.1"/><circle cx="632.9" cy="498.0" r="4.1"/><circle cx="574.1" cy="598.0" r="4.1"/><circle cx="569.5" cy="597.4" r="4.1"/><circle cx="586.6" cy="602.9" r="4.1"/><circle cx="671.0" cy="499.5" r="4.1"/><circle cx="657.7" cy="506.1" r="4.1"/><circle cx="478.9" cy="547.0" r="4.1"/><circle cx="714.5" cy="544.4" r="4.1"/><circle cx="561.1" cy="606.1" r="4.1"/><circle cx="683.2" cy="503.5" r="4.1"/><circle cx="652.8" cy="570.1" r="4.1"/><circle cx="654.2" cy="565.7" r="4.1"/><circle cx="692.5" cy="520.1" r="4.1"/><circle cx="695.9" cy="523.3" r="4.1"/><circle cx="609.5" cy="513.1" r="4.1"/><circle cx="612.0" cy="509.3" r="4.1"/></g></g>
<defs><clipPath id="cb"><path d="M569.0,380.0 C569.3,372.5 569.5,363.7 572.5,359.0 C575.5,354.3 581.6,355.6 587.0,352.0 C592.4,348.4 597.0,342.4 605.0,337.6 C613.0,332.8 625.8,326.0 635.0,323.0 C644.2,320.0 651.7,319.9 660.0,319.7 C668.3,319.4 676.3,319.7 685.0,321.5 C693.7,323.3 704.2,327.1 712.0,330.4 C719.8,333.6 726.0,335.9 732.0,341.0 C738.0,346.1 745.0,355.0 748.0,361.0 C751.0,367.0 751.2,371.1 750.0,377.0 C748.8,382.9 745.2,391.0 741.0,396.7 C736.8,402.4 731.0,406.8 724.7,411.0 C718.4,415.2 712.0,419.5 703.0,421.8 C694.0,424.1 681.4,424.7 671.0,425.0 C660.6,425.3 650.1,425.0 640.6,423.5 C631.1,422.0 621.8,418.7 613.7,416.0 C605.6,413.3 599.2,409.4 592.0,407.4 C584.8,405.4 574.5,408.6 570.7,404.0 C566.9,399.4 568.7,387.5 569.0,380.0Z"/></clipPath><radialGradient id="sng" cx="0.45" cy="0.55" r="0.5"><stop offset="0" stop-color="#cc4a8f"/><stop offset="1" stop-color="#de6fa8"/></radialGradient></defs>
<path d="M694.5,435.4 C696.7,433.1 706.8,432.4 713.3,431.8 C719.8,431.2 727.0,432.3 733.5,431.8 C740.0,431.3 747.7,428.8 752.3,428.9 C756.9,429.0 756.7,430.5 761.0,432.5 C765.3,434.5 772.9,438.1 778.0,441.0 C783.1,443.9 788.7,446.7 791.4,449.9 C794.1,453.1 794.5,456.1 794.3,460.0 C794.1,463.9 791.7,469.4 790.0,473.0 C788.3,476.6 785.6,478.3 784.1,481.7 C782.6,485.1 783.1,490.1 781.2,493.2 C779.3,496.3 775.7,499.8 772.6,500.5 C769.5,501.2 764.9,499.5 762.5,497.6 C760.1,495.7 761.2,491.9 758.1,489.0 C755.0,486.1 748.9,483.2 743.6,480.3 C738.3,477.4 731.3,475.2 726.3,471.6 C721.2,468.0 717.6,462.9 713.3,458.6 C708.9,454.3 703.3,449.5 700.2,445.6 C697.1,441.7 692.3,437.7 694.5,435.4Z" fill="url(#sng)" stroke="#c45d95" stroke-width="1.2"/>
<path d="M694.5,425.3 C695.2,423.1 697.1,422.0 700.2,420.9 C703.3,419.8 708.7,418.6 713.3,418.7 C717.9,418.8 723.1,420.9 727.7,421.6 C732.3,422.3 736.6,423.4 740.7,423.0 C744.8,422.6 749.4,419.6 752.3,419.5 C755.2,419.4 757.4,421.1 758.1,422.3 C758.8,423.5 758.4,425.7 756.7,426.7 C755.0,427.7 751.6,427.5 748.0,428.1 C744.4,428.7 739.1,429.7 735.0,430.3 C730.9,430.9 727.8,431.2 723.4,431.8 C719.0,432.4 713.5,433.5 708.9,433.9 C704.3,434.2 698.3,435.3 695.9,433.9 C693.5,432.5 693.8,427.5 694.5,425.3Z" fill="#7668bb" stroke="#5a4f98" stroke-width="1.5"/>
<path d="M570.0,403.0 C565.8,401.5 552.3,398.0 545.0,394.0 C537.7,390.0 530.8,383.8 526.0,379.0 C521.2,374.2 518.0,370.0 516.0,365.0 C514.0,360.0 513.2,355.7 514.0,349.0 C514.8,342.3 516.7,333.0 521.0,325.0 C525.3,317.0 531.0,309.0 540.0,301.0 C549.0,293.0 562.7,283.3 575.0,277.0 C587.3,270.7 601.0,266.5 614.0,263.0 C627.0,259.5 639.7,257.3 653.0,256.0 C666.3,254.7 680.3,254.3 694.0,255.0 C707.7,255.7 722.3,257.5 735.0,260.0 C747.7,262.5 759.2,265.7 770.0,270.0 C780.8,274.3 791.7,280.2 800.0,286.0 C808.3,291.8 814.7,298.0 820.0,305.0 C825.3,312.0 829.2,319.8 832.0,328.0 C834.8,336.2 836.0,345.3 837.0,354.0 C838.0,362.7 838.3,373.7 838.0,380.0 C837.7,386.3 837.4,385.9 835.4,392.0 C833.4,398.1 829.8,409.6 826.0,416.6 C822.2,423.6 818.3,428.7 812.8,433.8 C807.3,438.9 800.6,443.3 792.9,447.1 C785.1,450.9 776.3,454.0 766.3,456.4 C756.3,458.8 744.1,460.1 733.1,461.7 C722.1,463.2 707.9,464.3 700.0,465.7 C692.1,467.1 688.3,469.3 686.0,470.0 L686.0,461.0 C690.5,460.2 703.1,457.9 713.2,456.0 C723.3,454.1 736.4,452.2 746.4,449.5 C756.4,446.8 765.2,444.0 773.0,440.0 C780.8,436.0 787.4,430.3 792.9,425.5 C798.4,420.7 802.6,416.9 806.0,411.0 C809.4,405.1 811.5,397.9 813.0,390.0 C814.5,382.1 815.5,372.3 814.8,363.6 C814.1,354.9 812.8,345.8 809.0,338.0 C805.2,330.2 799.8,322.8 792.0,317.0 C784.2,311.2 773.7,306.1 762.0,303.0 C750.3,299.9 734.8,298.8 722.0,298.3 C709.2,297.9 694.7,299.1 685.0,300.3 C675.3,301.5 669.8,303.4 664.0,305.5 C658.2,307.6 654.0,310.2 650.0,313.0 C646.0,315.8 644.2,319.0 640.0,322.0 C635.8,325.0 630.8,327.5 625.0,331.0 C619.2,334.5 611.2,338.8 605.0,343.0 C598.8,347.2 592.5,352.2 588.0,356.0 C583.5,359.8 580.2,360.3 578.0,366.0 C575.8,371.7 575.5,384.0 575.0,390.0 C574.5,396.0 575.0,400.0 575.0,402.0Z" fill="#77b85c" fill-opacity="0.88" stroke="#34364f" stroke-width="2.5"/>
<path d="M644.0,359.0 C643.5,356.0 641.0,346.3 641.0,341.0 C641.0,335.7 641.7,331.0 644.0,327.0 C646.3,323.0 651.2,319.9 655.0,317.0 C658.8,314.1 662.0,311.6 667.0,309.5 C672.0,307.4 675.8,305.7 685.0,304.5 C694.2,303.3 709.5,302.1 722.0,302.5 C734.5,302.9 749.0,304.1 760.0,307.0 C771.0,309.9 780.5,314.5 788.0,320.0 C795.5,325.5 801.2,332.7 805.0,340.0 C808.8,347.3 809.9,355.3 810.5,363.6 C811.1,371.9 810.2,382.4 808.8,390.0 C807.4,397.6 805.2,403.6 802.0,409.0 C798.8,414.4 794.8,418.1 789.5,422.5 C784.2,426.9 777.8,431.8 770.0,435.5 C762.2,439.2 753.0,442.3 743.0,445.0 C733.0,447.7 720.0,449.7 710.0,451.7 C700.0,453.7 689.3,455.4 683.0,457.0 C676.7,458.6 673.8,460.3 672.0,461.0" fill="none" stroke="#4a4275" stroke-width="8.5" stroke-linecap="round"/>
<path d="M667.0,309.5 C670.0,308.7 675.8,305.7 685.0,304.5 C694.2,303.3 709.5,302.1 722.0,302.5 C734.5,302.9 749.0,304.1 760.0,307.0 C771.0,309.9 780.5,314.5 788.0,320.0 C795.5,325.5 801.2,332.7 805.0,340.0 C808.8,347.3 809.9,355.3 810.5,363.6 C811.1,371.9 810.2,382.4 808.8,390.0 C807.4,397.6 805.2,403.6 802.0,409.0 C798.8,414.4 794.8,418.1 789.5,422.5 C784.2,426.9 777.8,431.8 770.0,435.5 C762.2,439.2 753.0,442.3 743.0,445.0 C733.0,447.7 720.0,449.7 710.0,451.7 C700.0,453.7 689.3,455.4 683.0,457.0 C676.7,458.6 673.8,460.3 672.0,461.0" fill="none" stroke="#fdf3f5" stroke-opacity="0.85" stroke-width="2.2" stroke-linecap="round"/>
<path d="M642.2,478.3 C642.9,476.1 644.6,471.3 647.0,468.7 C649.4,466.1 652.8,463.6 656.6,462.5 C660.4,461.4 666.5,461.8 670.0,461.9 C673.5,462.0 674.9,461.9 677.8,462.9 C680.7,463.9 686.5,465.4 687.5,467.7 C688.5,469.9 685.9,473.2 683.6,476.4 C681.4,479.6 677.5,484.6 674.0,487.0 C670.5,489.4 666.3,490.6 662.4,490.8 C658.5,491.0 654.0,489.4 650.8,488.0 C647.6,486.6 644.4,483.8 643.0,482.2 C641.6,480.6 641.5,480.6 642.2,478.3Z" fill="#e6e06c" stroke="#34364f" stroke-width="2.5"/>
<path d="M693.0,321.0 C702.0,316.8 711.5,314.2 719.0,312.5 C726.5,310.8 730.7,310.1 738.0,310.6 C745.3,311.1 755.6,312.7 763.0,315.4 C770.4,318.1 776.7,322.2 782.5,327.0 C788.3,331.8 794.1,338.2 798.0,344.3 C801.9,350.4 804.8,357.2 805.7,363.6 C806.7,370.1 805.0,377.5 803.7,383.0 C802.4,388.5 800.9,392.2 798.0,396.4 C795.1,400.6 790.9,404.5 786.4,408.0 C781.9,411.5 777.4,415.0 771.0,417.6 C764.6,420.2 755.8,422.8 747.8,423.4 C739.8,424.0 730.8,422.3 722.8,421.4 C714.8,420.5 708.5,419.9 700.0,418.0 C691.5,416.1 679.0,413.8 672.0,410.0 C665.0,406.2 661.2,402.5 658.0,395.0 C654.8,387.5 651.8,374.5 653.0,365.0 C654.2,355.5 658.3,345.3 665.0,338.0 C671.7,330.7 684.0,325.2 693.0,321.0Z" fill="#b02429"/>
<path d="M569.0,380.0 C569.3,372.5 569.5,363.7 572.5,359.0 C575.5,354.3 581.6,355.6 587.0,352.0 C592.4,348.4 597.0,342.4 605.0,337.6 C613.0,332.8 625.8,326.0 635.0,323.0 C644.2,320.0 651.7,319.9 660.0,319.7 C668.3,319.4 676.3,319.7 685.0,321.5 C693.7,323.3 704.2,327.1 712.0,330.4 C719.8,333.6 726.0,335.9 732.0,341.0 C738.0,346.1 745.0,355.0 748.0,361.0 C751.0,367.0 751.2,371.1 750.0,377.0 C748.8,382.9 745.2,391.0 741.0,396.7 C736.8,402.4 731.0,406.8 724.7,411.0 C718.4,415.2 712.0,419.5 703.0,421.8 C694.0,424.1 681.4,424.7 671.0,425.0 C660.6,425.3 650.1,425.0 640.6,423.5 C631.1,422.0 621.8,418.7 613.7,416.0 C605.6,413.3 599.2,409.4 592.0,407.4 C584.8,405.4 574.5,408.6 570.7,404.0 C566.9,399.4 568.7,387.5 569.0,380.0Z" fill="#6c9ad2"/>
<path d="M572.5,359.0 C574.9,357.8 581.6,355.6 587.0,352.0 C592.4,348.4 597.0,342.4 605.0,337.6 C613.0,332.8 625.8,326.0 635.0,323.0 C644.2,320.0 651.7,319.9 660.0,319.7 C668.3,319.4 676.3,319.7 685.0,321.5 C693.7,323.3 704.2,327.1 712.0,330.4 C719.8,333.6 726.0,335.9 732.0,341.0 C738.0,346.1 745.0,355.0 748.0,361.0 C751.0,367.0 751.2,371.1 750.0,377.0 C748.8,382.9 745.2,391.0 741.0,396.7 C736.8,402.4 731.0,406.8 724.7,411.0 C718.4,415.2 712.0,419.5 703.0,421.8 C694.0,424.1 681.4,424.7 671.0,425.0 C660.6,425.3 650.1,425.0 640.6,423.5 C631.1,422.0 621.8,418.7 613.7,416.0 C605.6,413.3 599.2,409.4 592.0,407.4 C584.8,405.4 574.2,404.6 570.7,404.0" fill="none" stroke="#34364f" stroke-width="2"/>
<g clip-path="url(#cb)"><path d="M693.0,321.0 C702.0,316.8 711.5,314.2 719.0,312.5 C726.5,310.8 730.7,310.1 738.0,310.6 C745.3,311.1 755.6,312.7 763.0,315.4 C770.4,318.1 776.7,322.2 782.5,327.0 C788.3,331.8 794.1,338.2 798.0,344.3 C801.9,350.4 804.8,357.2 805.7,363.6 C806.7,370.1 805.0,377.5 803.7,383.0 C802.4,388.5 800.9,392.2 798.0,396.4 C795.1,400.6 790.9,404.5 786.4,408.0 C781.9,411.5 777.4,415.0 771.0,417.6 C764.6,420.2 755.8,422.8 747.8,423.4 C739.8,424.0 730.8,422.3 722.8,421.4 C714.8,420.5 708.5,419.9 700.0,418.0 C691.5,416.1 679.0,413.8 672.0,410.0 C665.0,406.2 661.2,402.5 658.0,395.0 C654.8,387.5 651.8,374.5 653.0,365.0 C654.2,355.5 658.3,345.3 665.0,338.0 C671.7,330.7 684.0,325.2 693.0,321.0Z" fill="#6f7a9c"/></g>
<ellipse cx="666.5" cy="371.6" rx="53" ry="26" fill="#487cb3"/>
<path d="M644.0,359.0 C643.5,356.0 641.0,346.3 641.0,341.0 C641.0,335.7 641.7,331.0 644.0,327.0 C646.3,323.0 651.2,319.9 655.0,317.0 C658.8,314.1 662.0,311.6 667.0,309.5 C672.0,307.4 682.0,305.3 685.0,304.5" fill="none" stroke="#4f4580" stroke-width="3" stroke-linecap="round"/>
<polyline points="292,45 347,45 404,184" stroke="#111" stroke-width="3" fill="none" stroke-linejoin="miter"/>
<polyline points="917,21 805,21 760.6,329" stroke="#111" stroke-width="3" fill="none" stroke-linejoin="miter"/>
<polyline points="135,347 543,347" stroke="#111" stroke-width="3" fill="none" stroke-linejoin="miter"/>
<polyline points="876,160 1083,160 1083,530 652,530" stroke="#111" stroke-width="3" fill="none" stroke-linejoin="miter"/>
<polyline points="1083,345 1111,345" stroke="#111" stroke-width="3" fill="none" stroke-linejoin="miter"/>
<polyline points="135,551 307,551 593.6,374.6" stroke="#111" stroke-width="3" fill="none" stroke-linejoin="miter"/>
<polyline points="249,683 379,683 639,374.6" stroke="#111" stroke-width="3" fill="none" stroke-linejoin="miter"/>
<polyline points="712,423 712,628" stroke="#111" stroke-width="3" fill="none" stroke-linejoin="miter"/>
<polyline points="769.4,474.5 1035,667 1084,667" stroke="#111" stroke-width="3" fill="none" stroke-linejoin="miter"/>
<text x="41.5" y="54.0" textLength="239.4" lengthAdjust="spacing">Motor Association</text>
<text x="41.5" y="92.5" textLength="88.9" lengthAdjust="spacing">Cortex</text>
<text x="945.0" y="32.0" textLength="125.2" lengthAdjust="spacing">Thalamus</text>
<text x="3.5" y="352.5" textLength="113.3" lengthAdjust="spacing">Striatum</text>
<text x="1125.4" y="318.0" textLength="102.7" lengthAdjust="spacing">Sensory</text>
<text x="1127.9" y="356.4" textLength="147.0" lengthAdjust="spacing">Association</text>
<text x="1126.9" y="394.5" textLength="88.0" lengthAdjust="spacing">Cortex</text>
<text x="25.1" y="519.8" textLength="91.3" lengthAdjust="spacing">Globus</text>
<text x="15.2" y="557.8" textLength="101.5" lengthAdjust="spacing">Pallidus</text>
<text x="6.4" y="595.0" textLength="110.4" lengthAdjust="spacing">externus</text>
<text x="27.0" y="682.5" textLength="201.2" lengthAdjust="spacing">Globus Pallidus</text>
<text x="122.1" y="721.0" textLength="106.4" lengthAdjust="spacing">internus</text>
<text x="632.5" y="662.0" textLength="161.0" lengthAdjust="spacing">Subthalamic</text>
<text x="661.5" y="700.5" textLength="103.6" lengthAdjust="spacing">Nucleus</text>
<text x="1099.0" y="654.8" textLength="133.2" lengthAdjust="spacing">Substantia</text>
<text x="1099.5" y="693.0" textLength="73.1" lengthAdjust="spacing">Nigra</text>
</svg>
</body></html>
